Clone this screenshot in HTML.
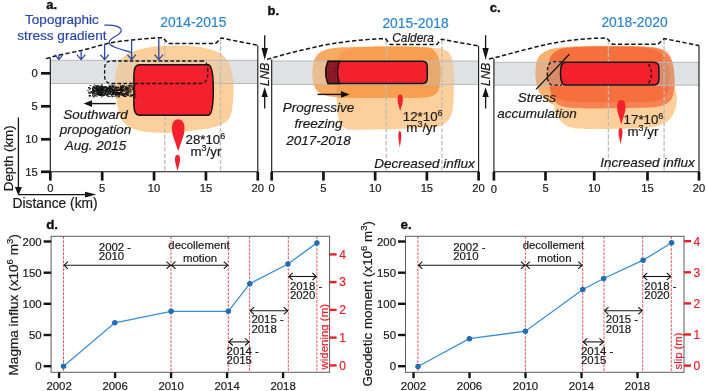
<!DOCTYPE html><html><head><meta charset="utf-8"><style>html,body{margin:0;padding:0;background:#fff;overflow:hidden;}svg{display:block;will-change:transform;}</style></head><body><svg width="706" height="391" viewBox="0 0 706 391" font-family='"Liberation Sans", sans-serif'><defs><clipPath id="band0"><rect x="50.3" y="60.3" width="207.5" height="23.200000000000003"/></clipPath><clipPath id="clipBb"><path d="M 337.00 62.00 C 338.03 57.50 338.33 53.50 343.00 51.00 C 347.67 48.50 355.50 47.75 365.00 47.00 C 374.50 46.25 389.17 46.42 400.00 46.50 C 410.83 46.58 422.67 47.00 430.00 47.50 C 437.33 48.00 440.50 48.08 444.00 49.50 C 447.50 50.92 449.40 52.58 451.00 56.00 C 452.60 59.42 453.13 64.33 453.60 70.00 C 454.07 75.67 453.90 83.67 453.80 90.00 C 453.70 96.33 453.80 103.17 453.00 108.00 C 452.20 112.83 451.17 116.00 449.00 119.00 C 446.83 122.00 444.83 124.45 440.00 126.00 C 435.17 127.55 427.50 127.80 420.00 128.30 C 412.50 128.80 403.33 128.80 395.00 129.00 C 386.67 129.20 377.50 129.40 370.00 129.50 C 362.50 129.60 354.83 130.35 350.00 129.60 C 345.17 128.85 343.12 127.77 341.00 125.00 C 338.88 122.23 338.00 118.00 337.30 113.00 C 336.60 108.00 336.88 100.83 336.80 95.00 C 336.72 89.17 336.77 83.50 336.80 78.00 C 336.83 72.50 335.97 66.50 337.00 62.00 Z"/></clipPath><clipPath id="band1"><rect x="271.7" y="61.0" width="206.90000000000003" height="23.400000000000006"/></clipPath><clipPath id="band2"><rect x="493.9" y="62.3" width="205.10000000000002" height="22.900000000000006"/></clipPath><pattern id="dots" width="2.2" height="2.2" patternUnits="userSpaceOnUse"><rect width="2.2" height="2.2" fill="#911a25"/><circle cx="1.1" cy="1.1" r="0.55" fill="#6a1019"/></pattern></defs><rect width="706" height="391" fill="#fff"/><path d="M 117.50 66.00 C 118.97 62.42 120.92 59.08 124.00 56.50 C 127.08 53.92 131.33 52.08 136.00 50.50 C 140.67 48.92 146.17 47.78 152.00 47.00 C 157.83 46.22 163.83 45.90 171.00 45.80 C 178.17 45.70 188.33 45.77 195.00 46.40 C 201.67 47.03 206.33 48.10 211.00 49.60 C 215.67 51.10 219.90 52.83 223.00 55.40 C 226.10 57.97 227.93 61.17 229.60 65.00 C 231.27 68.83 232.33 74.03 233.00 78.40 C 233.67 82.77 233.63 87.10 233.60 91.20 C 233.57 95.30 233.23 99.20 232.80 103.00 C 232.37 106.80 232.13 110.83 231.00 114.00 C 229.87 117.17 229.00 119.75 226.00 122.00 C 223.00 124.25 218.67 126.03 213.00 127.50 C 207.33 128.97 198.83 129.92 192.00 130.80 C 185.17 131.68 178.17 132.50 172.00 132.80 C 165.83 133.10 160.83 133.07 155.00 132.60 C 149.17 132.13 142.00 131.43 137.00 130.00 C 132.00 128.57 127.92 126.42 125.00 124.00 C 122.08 121.58 120.83 119.00 119.50 115.50 C 118.17 112.00 117.75 107.08 117.00 103.00 C 116.25 98.92 115.30 95.17 115.00 91.00 C 114.70 86.83 114.78 82.17 115.20 78.00 C 115.62 73.83 116.03 69.58 117.50 66.00 Z" fill="rgb(253,207,155)"/>
<rect x="50.3" y="60.3" width="207.5" height="23.200000000000003" fill="rgb(224,225,227)"/>
<g clip-path="url(#band0)">
<g><path d="M 117.50 66.00 C 118.97 62.42 120.92 59.08 124.00 56.50 C 127.08 53.92 131.33 52.08 136.00 50.50 C 140.67 48.92 146.17 47.78 152.00 47.00 C 157.83 46.22 163.83 45.90 171.00 45.80 C 178.17 45.70 188.33 45.77 195.00 46.40 C 201.67 47.03 206.33 48.10 211.00 49.60 C 215.67 51.10 219.90 52.83 223.00 55.40 C 226.10 57.97 227.93 61.17 229.60 65.00 C 231.27 68.83 232.33 74.03 233.00 78.40 C 233.67 82.77 233.63 87.10 233.60 91.20 C 233.57 95.30 233.23 99.20 232.80 103.00 C 232.37 106.80 232.13 110.83 231.00 114.00 C 229.87 117.17 229.00 119.75 226.00 122.00 C 223.00 124.25 218.67 126.03 213.00 127.50 C 207.33 128.97 198.83 129.92 192.00 130.80 C 185.17 131.68 178.17 132.50 172.00 132.80 C 165.83 133.10 160.83 133.07 155.00 132.60 C 149.17 132.13 142.00 131.43 137.00 130.00 C 132.00 128.57 127.92 126.42 125.00 124.00 C 122.08 121.58 120.83 119.00 119.50 115.50 C 118.17 112.00 117.75 107.08 117.00 103.00 C 116.25 98.92 115.30 95.17 115.00 91.00 C 114.70 86.83 114.78 82.17 115.20 78.00 C 115.62 73.83 116.03 69.58 117.50 66.00 Z" fill="rgb(236,205,168)"/></g>
</g>
<line x1="50.3" y1="60.3" x2="257.8" y2="60.3" stroke="#b8b9bc" stroke-width="1"/>
<line x1="50.3" y1="83.5" x2="257.8" y2="83.5" stroke="#b8b9bc" stroke-width="1"/>
<line x1="164.8" y1="40" x2="164.8" y2="171.8" stroke="#bcbcbc" stroke-width="1.3" stroke-dasharray="4.4 1.9"/>
<line x1="220.5" y1="40" x2="220.5" y2="171.8" stroke="#bcbcbc" stroke-width="1.3" stroke-dasharray="4.4 1.9"/>
<path d="M 139 64.8 L 208.5 64.8 C 211.8 65.5 213.3 75 213.3 90 C 213.3 105 211.8 114.5 208.5 115.2 L 139 115.2 C 135.5 115.2 134 112 133.9 105 L 133.9 75 C 134 68 135.5 64.8 139 64.8 Z" fill="#f3202e" stroke="#141414" stroke-width="1.5" stroke-linejoin="round"/>
<path d="M 203 61 L 112 61 Q 104.6 61 104.6 68.5 L 104.6 76 Q 104.6 83.5 112 83.5 L 201 83.5 Q 207.8 83.5 207.8 72.2 Q 207.8 61 203 61" fill="none" stroke="#141414" stroke-width="1.3" stroke-dasharray="3.6 2.2"/>
<g fill="#111"><rect x="97.4" y="91.9" width="1.4" height="0.8"/><rect x="111.3" y="89.4" width="1.4" height="0.8"/><rect x="110.3" y="86.5" width="1.4" height="0.8"/><rect x="94.5" y="87.0" width="1.4" height="0.8"/><rect x="121.8" y="87.3" width="1.4" height="0.8"/><rect x="114.6" y="94.5" width="1.4" height="0.8"/><rect x="106.3" y="94.8" width="1.4" height="0.8"/><rect x="122.9" y="88.7" width="1.4" height="0.8"/><rect x="96.2" y="88.9" width="1.4" height="0.8"/><rect x="100.7" y="91.3" width="1.4" height="0.8"/><rect x="105.7" y="91.0" width="1.4" height="0.8"/><rect x="94.1" y="88.0" width="1.4" height="0.8"/><rect x="107.1" y="89.0" width="1.4" height="0.8"/><rect x="108.3" y="88.8" width="1.4" height="0.8"/><rect x="114.2" y="88.3" width="1.4" height="0.8"/><rect x="110.9" y="93.9" width="1.4" height="0.8"/><rect x="103.5" y="94.8" width="1.4" height="0.8"/><rect x="107.1" y="92.9" width="1.4" height="0.8"/><rect x="109.6" y="86.5" width="1.4" height="0.8"/><rect x="115.9" y="91.2" width="1.4" height="0.8"/><rect x="104.2" y="92.3" width="1.4" height="0.8"/><rect x="112.9" y="90.2" width="1.4" height="0.8"/><rect x="120.6" y="90.4" width="1.4" height="0.8"/><rect x="97.6" y="92.4" width="1.4" height="0.8"/><rect x="121.8" y="93.4" width="1.4" height="0.8"/><rect x="105.9" y="92.1" width="1.4" height="0.8"/><rect x="108.6" y="87.7" width="1.4" height="0.8"/><rect x="94.1" y="93.0" width="1.4" height="0.8"/><rect x="100.9" y="89.6" width="1.4" height="0.8"/><rect x="98.1" y="90.2" width="1.4" height="0.8"/><rect x="123.8" y="93.4" width="1.4" height="0.8"/><rect x="103.2" y="89.9" width="1.4" height="0.8"/><rect x="123.8" y="94.6" width="1.4" height="0.8"/><rect x="98.3" y="88.2" width="1.4" height="0.8"/><rect x="109.5" y="91.4" width="1.4" height="0.8"/><rect x="92.1" y="89.9" width="1.4" height="0.8"/><rect x="112.4" y="94.6" width="1.4" height="0.8"/><rect x="109.4" y="91.6" width="1.4" height="0.8"/><rect x="97.4" y="94.1" width="1.4" height="0.8"/><rect x="118.7" y="93.2" width="1.4" height="0.8"/><rect x="106.4" y="87.1" width="1.4" height="0.8"/><rect x="97.6" y="86.8" width="1.4" height="0.8"/><rect x="97.8" y="89.2" width="1.4" height="0.8"/><rect x="92.0" y="87.5" width="1.4" height="0.8"/><rect x="105.1" y="86.4" width="1.4" height="0.8"/><rect x="112.0" y="87.5" width="1.4" height="0.8"/><rect x="104.5" y="89.4" width="1.4" height="0.8"/><rect x="122.6" y="94.9" width="1.4" height="0.8"/><rect x="109.4" y="87.0" width="1.4" height="0.8"/><rect x="104.3" y="88.5" width="1.4" height="0.8"/><rect x="100.2" y="86.4" width="1.4" height="0.8"/><rect x="109.7" y="87.5" width="1.4" height="0.8"/><rect x="93.0" y="90.8" width="1.4" height="0.8"/><rect x="118.4" y="92.3" width="1.4" height="0.8"/><rect x="105.2" y="87.7" width="1.4" height="0.8"/><rect x="109.8" y="93.1" width="1.4" height="0.8"/><rect x="100.0" y="93.3" width="1.4" height="0.8"/><rect x="118.2" y="93.3" width="1.4" height="0.8"/><rect x="115.2" y="88.2" width="1.4" height="0.8"/><rect x="104.8" y="86.5" width="1.4" height="0.8"/><rect x="102.1" y="88.5" width="1.4" height="0.8"/><rect x="120.9" y="90.1" width="1.4" height="0.8"/><rect x="121.7" y="94.6" width="1.4" height="0.8"/><rect x="99.9" y="88.2" width="1.4" height="0.8"/><rect x="99.4" y="91.7" width="1.4" height="0.8"/><rect x="117.9" y="90.4" width="1.4" height="0.8"/><rect x="116.8" y="86.9" width="1.4" height="0.8"/><rect x="119.7" y="93.1" width="1.4" height="0.8"/><rect x="108.4" y="87.8" width="1.4" height="0.8"/><rect x="104.6" y="93.2" width="1.4" height="0.8"/><rect x="106.3" y="89.7" width="1.4" height="0.8"/><rect x="114.8" y="87.7" width="1.4" height="0.8"/><rect x="97.4" y="94.2" width="1.4" height="0.8"/><rect x="99.8" y="93.5" width="1.4" height="0.8"/><rect x="113.1" y="89.3" width="1.4" height="0.8"/><rect x="96.7" y="86.3" width="1.4" height="0.8"/><rect x="112.9" y="90.8" width="1.4" height="0.8"/><rect x="107.3" y="93.9" width="1.4" height="0.8"/><rect x="101.5" y="88.4" width="1.4" height="0.8"/><rect x="100.7" y="91.4" width="1.4" height="0.8"/><rect x="107.1" y="87.4" width="1.4" height="0.8"/><rect x="105.2" y="90.2" width="1.4" height="0.8"/><rect x="124.6" y="89.9" width="1.4" height="0.8"/><rect x="109.0" y="90.9" width="1.4" height="0.8"/><rect x="92.7" y="90.1" width="1.4" height="0.8"/><rect x="92.1" y="93.2" width="1.4" height="0.8"/><rect x="109.0" y="92.6" width="1.4" height="0.8"/><rect x="103.7" y="90.8" width="1.4" height="0.8"/><rect x="120.2" y="87.1" width="1.4" height="0.8"/><rect x="100.9" y="88.6" width="1.4" height="0.8"/><rect x="109.2" y="91.1" width="1.4" height="0.8"/><rect x="119.7" y="90.1" width="1.4" height="0.8"/><rect x="109.1" y="90.7" width="1.4" height="0.8"/><rect x="107.8" y="90.9" width="1.4" height="0.8"/><rect x="125.9" y="92.4" width="1.4" height="0.8"/><rect x="120.5" y="88.5" width="1.4" height="0.8"/><rect x="126.0" y="93.6" width="1.4" height="0.8"/><rect x="96.4" y="90.1" width="1.4" height="0.8"/><rect x="100.7" y="86.8" width="1.4" height="0.8"/><rect x="116.4" y="94.1" width="1.4" height="0.8"/><rect x="117.8" y="92.0" width="1.4" height="0.8"/><rect x="123.8" y="94.7" width="1.4" height="0.8"/><rect x="126.3" y="89.7" width="1.4" height="0.8"/><rect x="127.6" y="93.5" width="1.4" height="0.8"/><rect x="107.5" y="90.7" width="1.4" height="0.8"/><rect x="99.0" y="89.0" width="1.4" height="0.8"/><rect x="96.5" y="91.1" width="1.4" height="0.8"/><rect x="92.7" y="89.1" width="1.4" height="0.8"/><rect x="109.3" y="86.8" width="1.4" height="0.8"/><rect x="116.5" y="94.8" width="1.4" height="0.8"/><rect x="101.6" y="86.5" width="1.4" height="0.8"/><rect x="103.0" y="87.3" width="1.4" height="0.8"/><rect x="124.8" y="93.4" width="1.4" height="0.8"/><rect x="97.4" y="94.3" width="1.4" height="0.8"/><rect x="117.2" y="87.0" width="1.4" height="0.8"/><rect x="116.8" y="89.9" width="1.4" height="0.8"/><rect x="125.8" y="91.8" width="1.4" height="0.8"/><rect x="98.2" y="93.7" width="1.4" height="0.8"/><rect x="123.1" y="90.2" width="1.4" height="0.8"/><rect x="111.9" y="94.4" width="1.4" height="0.8"/><rect x="96.7" y="90.8" width="1.4" height="0.8"/><rect x="95.9" y="87.6" width="1.4" height="0.8"/><rect x="99.3" y="88.9" width="1.4" height="0.8"/><rect x="119.3" y="88.8" width="1.4" height="0.8"/><rect x="98.4" y="89.3" width="1.4" height="0.8"/><rect x="101.0" y="86.3" width="1.4" height="0.8"/><rect x="110.3" y="87.9" width="1.4" height="0.8"/><rect x="125.6" y="87.1" width="1.4" height="0.8"/><rect x="107.2" y="90.6" width="1.4" height="0.8"/><rect x="106.2" y="90.7" width="1.4" height="0.8"/><rect x="121.5" y="89.2" width="1.4" height="0.8"/><rect x="114.4" y="91.8" width="1.4" height="0.8"/><rect x="104.5" y="86.7" width="1.4" height="0.8"/><rect x="94.5" y="92.7" width="1.4" height="0.8"/><rect x="97.9" y="86.9" width="1.4" height="0.8"/><rect x="118.6" y="92.1" width="1.4" height="0.8"/><rect x="100.7" y="88.8" width="1.4" height="0.8"/><rect x="97.7" y="90.1" width="1.4" height="0.8"/><rect x="126.6" y="94.8" width="1.4" height="0.8"/><rect x="100.8" y="94.7" width="1.4" height="0.8"/><rect x="104.8" y="86.2" width="1.4" height="0.8"/><rect x="109.1" y="90.6" width="1.4" height="0.8"/><rect x="110.2" y="86.2" width="1.4" height="0.8"/><rect x="95.2" y="89.7" width="1.4" height="0.8"/><rect x="92.8" y="88.9" width="1.4" height="0.8"/><rect x="113.1" y="90.9" width="1.4" height="0.8"/><rect x="113.1" y="92.5" width="1.4" height="0.8"/><rect x="106.1" y="89.1" width="1.4" height="0.8"/><rect x="99.9" y="92.6" width="1.4" height="0.8"/><rect x="97.1" y="93.6" width="1.4" height="0.8"/><rect x="112.3" y="92.7" width="1.4" height="0.8"/><rect x="99.6" y="90.8" width="1.4" height="0.8"/><rect x="122.1" y="93.3" width="1.4" height="0.8"/><rect x="111.2" y="94.1" width="1.4" height="0.8"/><rect x="114.0" y="88.2" width="1.4" height="0.8"/><rect x="96.8" y="89.4" width="1.4" height="0.8"/><rect x="122.1" y="91.1" width="1.4" height="0.8"/><rect x="112.3" y="92.2" width="1.4" height="0.8"/><rect x="92.1" y="93.2" width="1.4" height="0.8"/><rect x="109.1" y="90.9" width="1.4" height="0.8"/><rect x="97.7" y="92.7" width="1.4" height="0.8"/><rect x="94.7" y="88.5" width="1.4" height="0.8"/><rect x="101.3" y="92.7" width="1.4" height="0.8"/><rect x="108.8" y="89.6" width="1.4" height="0.8"/><rect x="116.6" y="92.9" width="1.4" height="0.8"/><rect x="112.7" y="86.9" width="1.4" height="0.8"/><rect x="101.1" y="92.7" width="1.4" height="0.8"/><rect x="112.4" y="86.3" width="1.4" height="0.8"/><rect x="101.7" y="92.1" width="1.4" height="0.8"/><rect x="113.6" y="88.8" width="1.4" height="0.8"/><rect x="108.7" y="90.3" width="1.4" height="0.8"/><rect x="124.2" y="88.0" width="1.4" height="0.8"/><rect x="120.3" y="86.4" width="1.4" height="0.8"/><rect x="121.5" y="94.7" width="1.4" height="0.8"/><rect x="101.7" y="88.0" width="1.4" height="0.8"/><rect x="101.5" y="91.3" width="1.4" height="0.8"/><rect x="110.9" y="94.6" width="1.4" height="0.8"/><rect x="121.5" y="90.7" width="1.4" height="0.8"/><rect x="114.3" y="88.2" width="1.4" height="0.8"/><rect x="108.6" y="86.4" width="1.4" height="0.8"/><rect x="109.7" y="90.2" width="1.4" height="0.8"/><rect x="97.1" y="89.2" width="1.4" height="0.8"/><rect x="122.2" y="86.2" width="1.4" height="0.8"/><rect x="117.8" y="87.3" width="1.4" height="0.8"/><rect x="114.5" y="94.1" width="1.4" height="0.8"/><rect x="105.4" y="89.7" width="1.4" height="0.8"/><rect x="111.3" y="89.4" width="1.4" height="0.8"/><rect x="101.9" y="86.6" width="1.4" height="0.8"/><rect x="122.0" y="88.7" width="1.4" height="0.8"/><rect x="102.5" y="88.5" width="1.4" height="0.8"/><rect x="98.8" y="89.5" width="1.4" height="0.8"/><rect x="119.0" y="93.3" width="1.4" height="0.8"/><rect x="119.7" y="94.5" width="1.4" height="0.8"/><rect x="117.9" y="86.6" width="1.4" height="0.8"/><rect x="107.7" y="92.8" width="1.4" height="0.8"/><rect x="103.4" y="86.6" width="1.4" height="0.8"/><rect x="99.3" y="90.4" width="1.4" height="0.8"/><rect x="102.7" y="92.7" width="1.4" height="0.8"/><rect x="102.8" y="92.0" width="1.4" height="0.8"/><rect x="112.1" y="89.7" width="1.4" height="0.8"/><rect x="97.8" y="88.0" width="1.4" height="0.8"/><rect x="108.9" y="88.1" width="1.4" height="0.8"/><rect x="121.9" y="90.2" width="1.4" height="0.8"/><rect x="98.9" y="87.0" width="1.4" height="0.8"/><rect x="95.3" y="88.3" width="1.4" height="0.8"/><rect x="112.5" y="94.0" width="1.4" height="0.8"/><rect x="106.7" y="89.8" width="1.4" height="0.8"/><rect x="105.6" y="89.2" width="1.4" height="0.8"/><rect x="102.0" y="94.7" width="1.4" height="0.8"/><rect x="110.1" y="91.7" width="1.4" height="0.8"/><rect x="101.6" y="88.6" width="1.4" height="0.8"/><rect x="106.4" y="90.1" width="1.4" height="0.8"/><rect x="118.1" y="93.9" width="1.4" height="0.8"/><rect x="93.2" y="92.4" width="1.4" height="0.8"/><rect x="108.3" y="91.4" width="1.4" height="0.8"/><rect x="106.1" y="94.4" width="1.4" height="0.8"/><rect x="118.2" y="94.8" width="1.4" height="0.8"/><rect x="95.9" y="87.6" width="1.4" height="0.8"/><rect x="116.6" y="94.5" width="1.4" height="0.8"/><rect x="112.8" y="92.9" width="1.4" height="0.8"/><rect x="111.9" y="86.5" width="1.4" height="0.8"/><rect x="102.0" y="94.3" width="1.4" height="0.8"/><rect x="103.9" y="87.3" width="1.4" height="0.8"/><rect x="114.9" y="92.3" width="1.4" height="0.8"/><rect x="94.5" y="90.8" width="1.4" height="0.8"/><rect x="106.0" y="88.2" width="1.4" height="0.8"/><rect x="96.3" y="88.9" width="1.4" height="0.8"/><rect x="126.5" y="91.9" width="1.4" height="0.8"/><rect x="108.4" y="88.3" width="1.4" height="0.8"/><rect x="126.6" y="92.4" width="1.4" height="0.8"/><rect x="92.8" y="90.6" width="1.4" height="0.8"/><rect x="106.9" y="88.5" width="1.4" height="0.8"/><rect x="120.1" y="88.2" width="1.4" height="0.8"/><rect x="104.2" y="89.9" width="1.4" height="0.8"/><rect x="101.2" y="93.2" width="1.4" height="0.8"/><rect x="109.1" y="88.0" width="1.4" height="0.8"/><rect x="104.1" y="93.4" width="1.4" height="0.8"/><rect x="100.0" y="92.9" width="1.4" height="0.8"/><rect x="126.3" y="90.6" width="1.4" height="0.8"/><rect x="100.0" y="89.9" width="1.4" height="0.8"/><rect x="120.7" y="87.5" width="1.4" height="0.8"/><rect x="99.7" y="94.8" width="1.4" height="0.8"/><rect x="93.9" y="86.7" width="1.4" height="0.8"/><rect x="124.3" y="94.0" width="1.4" height="0.8"/><rect x="121.9" y="94.4" width="1.4" height="0.8"/><rect x="98.7" y="94.4" width="1.4" height="0.8"/><rect x="96.8" y="92.0" width="1.4" height="0.8"/><rect x="105.5" y="89.1" width="1.4" height="0.8"/><rect x="92.1" y="88.7" width="1.4" height="0.8"/><rect x="126.4" y="87.3" width="1.4" height="0.8"/><rect x="101.4" y="89.3" width="1.4" height="0.8"/><rect x="117.4" y="90.0" width="1.4" height="0.8"/><rect x="109.0" y="89.5" width="1.4" height="0.8"/><rect x="101.0" y="89.4" width="1.4" height="0.8"/><rect x="96.8" y="89.8" width="1.4" height="0.8"/><rect x="115.9" y="86.6" width="1.4" height="0.8"/><rect x="94.3" y="94.3" width="1.4" height="0.8"/><rect x="118.9" y="94.1" width="1.4" height="0.8"/><rect x="101.8" y="94.6" width="1.4" height="0.8"/><rect x="102.8" y="92.5" width="1.4" height="0.8"/><rect x="101.9" y="86.2" width="1.4" height="0.8"/><rect x="119.8" y="91.8" width="1.4" height="0.8"/><rect x="96.6" y="88.3" width="1.4" height="0.8"/><rect x="126.4" y="94.6" width="1.4" height="0.8"/><rect x="101.0" y="90.0" width="1.4" height="0.8"/><rect x="125.4" y="87.8" width="1.4" height="0.8"/><rect x="115.2" y="93.4" width="1.4" height="0.8"/><rect x="111.8" y="89.1" width="1.4" height="0.8"/><rect x="105.0" y="93.1" width="1.4" height="0.8"/><rect x="99.1" y="92.8" width="1.4" height="0.8"/><rect x="94.3" y="86.5" width="1.4" height="0.8"/><rect x="103.7" y="94.8" width="1.4" height="0.8"/><rect x="121.7" y="88.5" width="1.4" height="0.8"/><rect x="95.5" y="90.6" width="1.4" height="0.8"/><rect x="107.6" y="88.3" width="1.4" height="0.8"/><rect x="114.3" y="92.1" width="1.4" height="0.8"/><rect x="118.0" y="92.0" width="1.4" height="0.8"/><rect x="122.3" y="88.8" width="1.4" height="0.8"/><rect x="105.4" y="92.7" width="1.4" height="0.8"/><rect x="100.9" y="88.4" width="1.4" height="0.8"/><rect x="123.8" y="91.3" width="1.4" height="0.8"/><rect x="106.3" y="94.9" width="1.4" height="0.8"/><rect x="100.3" y="93.3" width="1.4" height="0.8"/><rect x="121.8" y="87.1" width="1.4" height="0.8"/><rect x="121.5" y="93.6" width="1.4" height="0.8"/><rect x="97.0" y="88.8" width="1.4" height="0.8"/><rect x="98.8" y="94.8" width="1.4" height="0.8"/><rect x="125.5" y="89.5" width="1.4" height="0.8"/><rect x="107.7" y="88.5" width="1.4" height="0.8"/><rect x="120.6" y="87.1" width="1.4" height="0.8"/><rect x="114.3" y="88.1" width="1.4" height="0.8"/><rect x="97.1" y="88.0" width="1.4" height="0.8"/><rect x="113.6" y="91.9" width="1.4" height="0.8"/><rect x="92.4" y="89.1" width="1.4" height="0.8"/><rect x="100.8" y="88.9" width="1.4" height="0.8"/><rect x="120.6" y="91.0" width="1.4" height="0.8"/><rect x="95.6" y="89.7" width="1.4" height="0.8"/><rect x="115.0" y="87.0" width="1.4" height="0.8"/><rect x="117.0" y="89.8" width="1.4" height="0.8"/><rect x="103.1" y="94.6" width="1.4" height="0.8"/><rect x="112.4" y="89.3" width="1.4" height="0.8"/><rect x="123.1" y="95.0" width="1.4" height="0.8"/><rect x="99.1" y="92.6" width="1.4" height="0.8"/><rect x="92.2" y="94.1" width="1.4" height="0.8"/><rect x="121.5" y="89.8" width="1.4" height="0.8"/><rect x="108.0" y="87.6" width="1.4" height="0.8"/><rect x="111.9" y="91.8" width="1.4" height="0.8"/><rect x="98.3" y="91.7" width="1.4" height="0.8"/><rect x="110.2" y="87.5" width="1.4" height="0.8"/><rect x="110.8" y="94.3" width="1.4" height="0.8"/><rect x="109.7" y="93.3" width="1.4" height="0.8"/><rect x="101.1" y="87.3" width="1.4" height="0.8"/><rect x="121.4" y="90.4" width="1.4" height="0.8"/><rect x="125.3" y="89.6" width="1.4" height="0.8"/><rect x="112.1" y="93.5" width="1.4" height="0.8"/><rect x="120.3" y="88.2" width="1.4" height="0.8"/><rect x="122.5" y="93.5" width="1.4" height="0.8"/><rect x="99.9" y="89.7" width="1.4" height="0.8"/><rect x="105.8" y="87.3" width="1.4" height="0.8"/><rect x="118.1" y="94.1" width="1.4" height="0.8"/><rect x="112.2" y="92.9" width="1.4" height="0.8"/><rect x="122.2" y="87.2" width="1.4" height="0.8"/><rect x="111.8" y="91.7" width="1.4" height="0.8"/><rect x="107.1" y="91.3" width="1.4" height="0.8"/><rect x="115.7" y="90.1" width="1.4" height="0.8"/><rect x="92.8" y="91.6" width="1.4" height="0.8"/><rect x="100.5" y="92.9" width="1.4" height="0.8"/><rect x="107.9" y="87.8" width="1.4" height="0.8"/><rect x="95.9" y="87.3" width="1.4" height="0.8"/><rect x="95.3" y="90.1" width="1.4" height="0.8"/><rect x="93.5" y="91.8" width="1.4" height="0.8"/><rect x="118.4" y="93.0" width="1.4" height="0.8"/><rect x="94.0" y="90.6" width="1.4" height="0.8"/><rect x="126.2" y="87.4" width="1.4" height="0.8"/><rect x="121.9" y="92.6" width="1.4" height="0.8"/><rect x="101.0" y="94.8" width="1.4" height="0.8"/><rect x="126.4" y="94.3" width="1.4" height="0.8"/><rect x="120.4" y="94.4" width="1.4" height="0.8"/><rect x="104.6" y="92.9" width="1.4" height="0.8"/><rect x="124.3" y="88.6" width="1.4" height="0.8"/><rect x="99.7" y="90.6" width="1.4" height="0.8"/><rect x="101.4" y="88.5" width="1.4" height="0.8"/><rect x="103.5" y="86.5" width="1.4" height="0.8"/><rect x="97.8" y="94.4" width="1.4" height="0.8"/><rect x="119.3" y="87.7" width="1.4" height="0.8"/><rect x="99.0" y="90.9" width="1.4" height="0.8"/><rect x="105.4" y="93.9" width="1.4" height="0.8"/><rect x="112.9" y="94.0" width="1.4" height="0.8"/><rect x="127.7" y="91.7" width="1.4" height="0.8"/><rect x="120.7" y="88.5" width="1.4" height="0.8"/><rect x="111.0" y="89.4" width="1.4" height="0.8"/><rect x="107.5" y="87.8" width="1.4" height="0.8"/><rect x="97.3" y="93.4" width="1.4" height="0.8"/><rect x="115.0" y="94.9" width="1.4" height="0.8"/><rect x="115.9" y="89.0" width="1.4" height="0.8"/><rect x="93.2" y="87.5" width="1.4" height="0.8"/><rect x="107.2" y="90.7" width="1.4" height="0.8"/><rect x="99.4" y="88.2" width="1.4" height="0.8"/><rect x="96.6" y="86.2" width="1.4" height="0.8"/><rect x="95.8" y="89.3" width="1.4" height="0.8"/><rect x="113.0" y="91.4" width="1.4" height="0.8"/><rect x="114.5" y="90.4" width="1.4" height="0.8"/><rect x="125.7" y="88.3" width="1.4" height="0.8"/><rect x="95.4" y="91.8" width="1.4" height="0.8"/><rect x="116.3" y="89.7" width="1.4" height="0.8"/><rect x="92.4" y="91.9" width="1.4" height="0.8"/><rect x="104.6" y="91.9" width="1.4" height="0.8"/><rect x="125.7" y="92.7" width="1.4" height="0.8"/><rect x="124.5" y="86.6" width="1.4" height="0.8"/><rect x="106.6" y="88.3" width="1.4" height="0.8"/><rect x="120.0" y="86.3" width="1.4" height="0.8"/><rect x="125.9" y="87.5" width="1.4" height="0.8"/><rect x="113.9" y="90.7" width="1.4" height="0.8"/><rect x="117.1" y="87.7" width="1.4" height="0.8"/><rect x="102.8" y="86.6" width="1.4" height="0.8"/><rect x="116.4" y="92.5" width="1.4" height="0.8"/><rect x="122.4" y="92.8" width="1.4" height="0.8"/><rect x="118.7" y="90.2" width="1.4" height="0.8"/><rect x="95.8" y="88.2" width="1.4" height="0.8"/><rect x="104.1" y="92.8" width="1.4" height="0.8"/><rect x="118.0" y="92.5" width="1.4" height="0.8"/><rect x="111.9" y="90.0" width="1.4" height="0.8"/><rect x="109.6" y="88.5" width="1.4" height="0.8"/><rect x="121.1" y="88.1" width="1.4" height="0.8"/><rect x="96.4" y="88.5" width="1.4" height="0.8"/><rect x="118.8" y="94.5" width="1.4" height="0.8"/><rect x="104.5" y="93.9" width="1.4" height="0.8"/><rect x="100.6" y="94.2" width="1.4" height="0.8"/><rect x="114.0" y="92.1" width="1.4" height="0.8"/><rect x="108.2" y="93.6" width="1.4" height="0.8"/><rect x="118.3" y="90.0" width="1.4" height="0.8"/><rect x="110.8" y="88.9" width="1.4" height="0.8"/><rect x="114.4" y="86.9" width="1.4" height="0.8"/><rect x="99.8" y="86.4" width="1.4" height="0.8"/><rect x="125.4" y="89.2" width="1.4" height="0.8"/><rect x="93.0" y="86.6" width="1.4" height="0.8"/><rect x="112.5" y="92.3" width="1.4" height="0.8"/><rect x="97.7" y="91.4" width="1.4" height="0.8"/><rect x="121.4" y="93.4" width="1.4" height="0.8"/><rect x="97.7" y="93.8" width="1.4" height="0.8"/><rect x="120.6" y="87.1" width="1.4" height="0.8"/><rect x="96.0" y="86.5" width="1.4" height="0.8"/><rect x="117.1" y="91.8" width="1.4" height="0.8"/><rect x="112.4" y="88.7" width="1.4" height="0.8"/><rect x="95.5" y="92.9" width="1.4" height="0.8"/><rect x="103.5" y="89.9" width="1.4" height="0.8"/><rect x="101.2" y="88.7" width="1.4" height="0.8"/><rect x="105.6" y="89.0" width="1.4" height="0.8"/><rect x="109.1" y="93.7" width="1.4" height="0.8"/><rect x="96.8" y="89.8" width="1.4" height="0.8"/><rect x="119.8" y="89.3" width="1.4" height="0.8"/><rect x="110.0" y="88.1" width="1.4" height="0.8"/><rect x="98.4" y="93.4" width="1.4" height="0.8"/><rect x="92.0" y="88.0" width="1.4" height="0.8"/><rect x="121.4" y="86.2" width="1.4" height="0.8"/><rect x="109.7" y="93.2" width="1.4" height="0.8"/><rect x="109.8" y="89.3" width="1.4" height="0.8"/><rect x="102.8" y="94.5" width="1.4" height="0.8"/><rect x="99.7" y="92.4" width="1.4" height="0.8"/><rect x="96.0" y="91.8" width="1.4" height="0.8"/><rect x="120.4" y="92.3" width="1.4" height="0.8"/><rect x="112.3" y="89.3" width="1.4" height="0.8"/><rect x="106.2" y="94.0" width="1.4" height="0.8"/><rect x="124.0" y="86.4" width="1.4" height="0.8"/><rect x="101.5" y="94.1" width="1.4" height="0.8"/><rect x="105.7" y="94.0" width="1.4" height="0.8"/><rect x="108.6" y="90.9" width="1.4" height="0.8"/><rect x="115.6" y="91.9" width="1.4" height="0.8"/><rect x="103.8" y="87.6" width="1.4" height="0.8"/><rect x="113.2" y="92.7" width="1.4" height="0.8"/><rect x="107.8" y="93.0" width="1.4" height="0.8"/><rect x="96.5" y="90.3" width="1.4" height="0.8"/><rect x="102.2" y="87.9" width="1.4" height="0.8"/><rect x="117.3" y="93.6" width="1.4" height="0.8"/><rect x="97.6" y="88.4" width="1.4" height="0.8"/><rect x="110.8" y="87.6" width="1.4" height="0.8"/><rect x="98.8" y="94.8" width="1.4" height="0.8"/><rect x="98.6" y="94.7" width="1.4" height="0.8"/><rect x="105.8" y="94.9" width="1.4" height="0.8"/><rect x="115.1" y="90.0" width="1.4" height="0.8"/><rect x="115.0" y="87.1" width="1.4" height="0.8"/><rect x="106.0" y="86.5" width="1.4" height="0.8"/><rect x="120.5" y="92.3" width="1.4" height="0.8"/><rect x="114.8" y="90.3" width="1.4" height="0.8"/><rect x="113.7" y="89.8" width="1.4" height="0.8"/><rect x="119.6" y="90.0" width="1.4" height="0.8"/><rect x="119.0" y="89.9" width="1.4" height="0.8"/><rect x="118.0" y="93.9" width="1.4" height="0.8"/><rect x="114.2" y="93.7" width="1.4" height="0.8"/><rect x="112.7" y="90.2" width="1.4" height="0.8"/><rect x="114.6" y="87.1" width="1.4" height="0.8"/><rect x="120.2" y="92.5" width="1.4" height="0.8"/><rect x="102.5" y="89.9" width="1.4" height="0.8"/><rect x="114.4" y="89.8" width="1.4" height="0.8"/><rect x="120.2" y="87.8" width="1.4" height="0.8"/><rect x="116.2" y="89.6" width="1.4" height="0.8"/><rect x="127.1" y="86.5" width="1.4" height="0.8"/><rect x="97.8" y="93.1" width="1.4" height="0.8"/><rect x="109.5" y="87.1" width="1.4" height="0.8"/><rect x="111.5" y="92.5" width="1.4" height="0.8"/><rect x="115.0" y="93.5" width="1.4" height="0.8"/><rect x="106.8" y="94.5" width="1.4" height="0.8"/><rect x="116.6" y="89.7" width="1.4" height="0.8"/><rect x="99.2" y="94.9" width="1.4" height="0.8"/><rect x="94.0" y="88.6" width="1.4" height="0.8"/><rect x="92.5" y="89.9" width="1.4" height="0.8"/><rect x="117.1" y="89.3" width="1.4" height="0.8"/><rect x="100.1" y="92.7" width="1.4" height="0.8"/><rect x="109.7" y="88.1" width="1.4" height="0.8"/><rect x="106.2" y="88.1" width="1.4" height="0.8"/><rect x="120.0" y="93.3" width="1.4" height="0.8"/><rect x="108.2" y="91.1" width="1.4" height="0.8"/><rect x="126.7" y="89.3" width="1.4" height="0.8"/><rect x="117.3" y="93.4" width="1.4" height="0.8"/><rect x="102.6" y="91.0" width="1.4" height="0.8"/><rect x="122.0" y="89.3" width="1.4" height="0.8"/><rect x="103.0" y="89.5" width="1.4" height="0.8"/><rect x="107.3" y="87.8" width="1.4" height="0.8"/><rect x="118.0" y="88.7" width="1.4" height="0.8"/><rect x="102.9" y="90.4" width="1.4" height="0.8"/><rect x="107.8" y="92.3" width="1.4" height="0.8"/><rect x="119.0" y="89.0" width="1.4" height="0.8"/><rect x="132.0" y="95.0" width="1.4" height="0.8"/><rect x="89.8" y="95.6" width="1.4" height="0.8"/><rect x="125.0" y="86.2" width="1.4" height="0.8"/><rect x="127.3" y="92.3" width="1.4" height="0.8"/><rect x="133.2" y="92.6" width="1.4" height="0.8"/><rect x="99.1" y="85.7" width="1.4" height="0.8"/><rect x="93.9" y="87.4" width="1.4" height="0.8"/><rect x="124.7" y="88.8" width="1.4" height="0.8"/><rect x="94.4" y="95.6" width="1.4" height="0.8"/><rect x="125.4" y="86.6" width="1.4" height="0.8"/><rect x="130.2" y="92.0" width="1.4" height="0.8"/><rect x="124.9" y="92.7" width="1.4" height="0.8"/><rect x="130.4" y="94.2" width="1.4" height="0.8"/><rect x="127.7" y="86.9" width="1.4" height="0.8"/><rect x="120.6" y="91.0" width="1.4" height="0.8"/><rect x="123.0" y="89.9" width="1.4" height="0.8"/><rect x="129.8" y="91.3" width="1.4" height="0.8"/><rect x="99.8" y="87.4" width="1.4" height="0.8"/><rect x="93.8" y="90.6" width="1.4" height="0.8"/><rect x="94.0" y="90.5" width="1.4" height="0.8"/><rect x="111.2" y="91.1" width="1.4" height="0.8"/><rect x="128.8" y="84.6" width="1.4" height="0.8"/><rect x="127.8" y="90.3" width="1.4" height="0.8"/><rect x="114.3" y="92.7" width="1.4" height="0.8"/><rect x="127.8" y="89.1" width="1.4" height="0.8"/><rect x="107.3" y="96.3" width="1.4" height="0.8"/><rect x="90.7" y="92.3" width="1.4" height="0.8"/><rect x="88.4" y="92.9" width="1.4" height="0.8"/><rect x="132.2" y="88.6" width="1.4" height="0.8"/><rect x="134.6" y="90.8" width="1.4" height="0.8"/><rect x="110.5" y="95.5" width="1.4" height="0.8"/><rect x="88.6" y="92.2" width="1.4" height="0.8"/><rect x="103.4" y="95.1" width="1.4" height="0.8"/><rect x="104.8" y="90.3" width="1.4" height="0.8"/><rect x="112.5" y="94.0" width="1.4" height="0.8"/><rect x="97.2" y="89.9" width="1.4" height="0.8"/><rect x="107.5" y="91.3" width="1.4" height="0.8"/><rect x="127.1" y="88.1" width="1.4" height="0.8"/><rect x="127.1" y="89.5" width="1.4" height="0.8"/><rect x="111.4" y="87.8" width="1.4" height="0.8"/><rect x="111.6" y="96.5" width="1.4" height="0.8"/><rect x="118.7" y="94.2" width="1.4" height="0.8"/><rect x="103.0" y="88.4" width="1.4" height="0.8"/><rect x="101.5" y="91.7" width="1.4" height="0.8"/><rect x="117.8" y="94.1" width="1.4" height="0.8"/><rect x="88.9" y="95.4" width="1.4" height="0.8"/><rect x="113.5" y="85.1" width="1.4" height="0.8"/><rect x="101.6" y="84.6" width="1.4" height="0.8"/><rect x="96.2" y="95.8" width="1.4" height="0.8"/><rect x="116.5" y="92.6" width="1.4" height="0.8"/><rect x="125.3" y="95.7" width="1.4" height="0.8"/><rect x="116.7" y="92.1" width="1.4" height="0.8"/><rect x="117.4" y="93.1" width="1.4" height="0.8"/><rect x="115.9" y="92.9" width="1.4" height="0.8"/><rect x="97.3" y="92.7" width="1.4" height="0.8"/><rect x="109.2" y="93.9" width="1.4" height="0.8"/><rect x="91.9" y="86.7" width="1.4" height="0.8"/><rect x="88.8" y="95.7" width="1.4" height="0.8"/><rect x="118.8" y="89.0" width="1.4" height="0.8"/><rect x="126.9" y="94.2" width="1.4" height="0.8"/><rect x="114.3" y="87.7" width="1.4" height="0.8"/><rect x="101.6" y="89.7" width="1.4" height="0.8"/><rect x="102.4" y="89.8" width="1.4" height="0.8"/><rect x="118.1" y="96.0" width="1.4" height="0.8"/><rect x="89.6" y="85.0" width="1.4" height="0.8"/><rect x="92.8" y="94.5" width="1.4" height="0.8"/><rect x="114.9" y="95.8" width="1.4" height="0.8"/><rect x="108.7" y="84.7" width="1.4" height="0.8"/><rect x="105.8" y="91.8" width="1.4" height="0.8"/><rect x="132.5" y="96.6" width="1.4" height="0.8"/><rect x="110.1" y="89.6" width="1.4" height="0.8"/><rect x="91.9" y="92.4" width="1.4" height="0.8"/><rect x="97.3" y="86.4" width="1.4" height="0.8"/><rect x="120.2" y="86.0" width="1.4" height="0.8"/><rect x="133.9" y="85.6" width="1.4" height="0.8"/><rect x="129.2" y="86.1" width="1.4" height="0.8"/><rect x="87.9" y="87.5" width="1.4" height="0.8"/><rect x="122.6" y="86.8" width="1.4" height="0.8"/><rect x="89.4" y="93.3" width="1.4" height="0.8"/><rect x="128.5" y="93.5" width="1.4" height="0.8"/><rect x="91.1" y="92.2" width="1.4" height="0.8"/><rect x="121.4" y="90.2" width="1.4" height="0.8"/><rect x="132.2" y="87.6" width="1.4" height="0.8"/><rect x="133.8" y="93.3" width="1.4" height="0.8"/><rect x="118.6" y="94.6" width="1.4" height="0.8"/><rect x="122.4" y="86.5" width="1.4" height="0.8"/><rect x="128.8" y="90.5" width="1.4" height="0.8"/><rect x="114.9" y="89.9" width="1.4" height="0.8"/><rect x="119.8" y="86.3" width="1.4" height="0.8"/><rect x="125.7" y="89.0" width="1.4" height="0.8"/><rect x="118.3" y="92.2" width="1.4" height="0.8"/><rect x="107.3" y="89.2" width="1.4" height="0.8"/><rect x="125.1" y="96.1" width="1.4" height="0.8"/><rect x="125.1" y="91.5" width="1.4" height="0.8"/><rect x="101.2" y="85.2" width="1.4" height="0.8"/><rect x="134.2" y="93.2" width="1.4" height="0.8"/><rect x="127.1" y="88.6" width="1.4" height="0.8"/><rect x="116.4" y="96.5" width="1.4" height="0.8"/><rect x="127.3" y="91.9" width="1.4" height="0.8"/><rect x="102.0" y="89.8" width="1.4" height="0.8"/><rect x="130.1" y="89.1" width="1.4" height="0.8"/><rect x="120.2" y="91.9" width="1.4" height="0.8"/><rect x="130.5" y="94.4" width="1.4" height="0.8"/><rect x="100.7" y="84.5" width="1.4" height="0.8"/><rect x="99.8" y="89.7" width="1.4" height="0.8"/><rect x="115.5" y="94.5" width="1.4" height="0.8"/><rect x="130.0" y="85.0" width="1.4" height="0.8"/><rect x="127.4" y="94.5" width="1.4" height="0.8"/><rect x="129.1" y="91.5" width="1.4" height="0.8"/><rect x="100.3" y="95.0" width="1.4" height="0.8"/><rect x="126.1" y="92.9" width="1.4" height="0.8"/><rect x="131.3" y="88.8" width="1.4" height="0.8"/><rect x="91.1" y="91.3" width="1.4" height="0.8"/><rect x="125.7" y="87.0" width="1.4" height="0.8"/><rect x="123.4" y="96.0" width="1.4" height="0.8"/><rect x="98.4" y="92.0" width="1.4" height="0.8"/><rect x="119.9" y="90.2" width="1.4" height="0.8"/><rect x="97.0" y="87.6" width="1.4" height="0.8"/><rect x="123.4" y="94.2" width="1.4" height="0.8"/><rect x="109.3" y="85.6" width="1.4" height="0.8"/><rect x="126.1" y="94.0" width="1.4" height="0.8"/><rect x="98.3" y="91.6" width="1.4" height="0.8"/><rect x="130.5" y="95.4" width="1.4" height="0.8"/><rect x="112.3" y="90.4" width="1.4" height="0.8"/><rect x="115.6" y="86.8" width="1.4" height="0.8"/><rect x="96.3" y="86.7" width="1.4" height="0.8"/><rect x="121.0" y="89.0" width="1.4" height="0.8"/><rect x="114.4" y="89.5" width="1.4" height="0.8"/><rect x="112.1" y="86.3" width="1.4" height="0.8"/><rect x="89.2" y="89.1" width="1.4" height="0.8"/><rect x="92.1" y="92.3" width="1.4" height="0.8"/><rect x="125.2" y="86.4" width="1.4" height="0.8"/><rect x="116.0" y="88.7" width="1.4" height="0.8"/><rect x="112.2" y="84.8" width="1.4" height="0.8"/><rect x="88.6" y="95.2" width="1.4" height="0.8"/><rect x="110.6" y="91.5" width="1.4" height="0.8"/><rect x="99.7" y="94.1" width="1.4" height="0.8"/><rect x="107.7" y="96.1" width="1.4" height="0.8"/><rect x="124.2" y="94.6" width="1.4" height="0.8"/><rect x="133.7" y="87.6" width="1.4" height="0.8"/><rect x="95.8" y="85.5" width="1.4" height="0.8"/><rect x="89.5" y="95.2" width="1.4" height="0.8"/><rect x="109.2" y="96.2" width="1.4" height="0.8"/><rect x="131.1" y="85.3" width="1.4" height="0.8"/><rect x="116.0" y="89.4" width="1.4" height="0.8"/><rect x="92.8" y="96.3" width="1.4" height="0.8"/><rect x="99.5" y="91.4" width="1.4" height="0.8"/><rect x="118.1" y="96.3" width="1.4" height="0.8"/><rect x="119.5" y="89.3" width="1.4" height="0.8"/><rect x="108.7" y="86.5" width="1.4" height="0.8"/><rect x="133.8" y="96.7" width="1.4" height="0.8"/><rect x="97.8" y="85.0" width="1.4" height="0.8"/><rect x="99.4" y="88.8" width="1.4" height="0.8"/><rect x="130.8" y="95.6" width="1.4" height="0.8"/><rect x="127.6" y="85.1" width="1.4" height="0.8"/><rect x="125.1" y="93.2" width="1.4" height="0.8"/><rect x="118.4" y="96.6" width="1.4" height="0.8"/><rect x="123.6" y="96.1" width="1.4" height="0.8"/><rect x="119.8" y="88.2" width="1.4" height="0.8"/><rect x="115.7" y="93.8" width="1.4" height="0.8"/><rect x="92.1" y="88.5" width="1.4" height="0.8"/><rect x="99.5" y="86.0" width="1.4" height="0.8"/><rect x="110.3" y="86.6" width="1.4" height="0.8"/><rect x="98.6" y="86.3" width="1.4" height="0.8"/><rect x="119.9" y="84.7" width="1.4" height="0.8"/><rect x="121.8" y="86.9" width="1.4" height="0.8"/><rect x="88.7" y="87.2" width="1.4" height="0.8"/><rect x="132.3" y="95.2" width="1.4" height="0.8"/><rect x="130.1" y="86.2" width="1.4" height="0.8"/><rect x="108.7" y="85.7" width="1.4" height="0.8"/><rect x="132.0" y="94.9" width="1.4" height="0.8"/><rect x="117.5" y="90.1" width="1.4" height="0.8"/><rect x="103.5" y="94.6" width="1.4" height="0.8"/><rect x="110.2" y="92.2" width="1.4" height="0.8"/><rect x="93.9" y="87.2" width="1.4" height="0.8"/><rect x="89.8" y="91.3" width="1.4" height="0.8"/><rect x="94.0" y="95.2" width="1.4" height="0.8"/><rect x="99.9" y="89.6" width="1.4" height="0.8"/><rect x="94.6" y="87.8" width="1.4" height="0.8"/><rect x="127.7" y="88.6" width="1.4" height="0.8"/><rect x="95.1" y="90.5" width="1.4" height="0.8"/><rect x="102.4" y="95.6" width="1.4" height="0.8"/><rect x="92.5" y="96.5" width="1.4" height="0.8"/><rect x="89.8" y="92.7" width="1.4" height="0.8"/><rect x="97.2" y="90.4" width="1.4" height="0.8"/><rect x="100.9" y="87.7" width="1.4" height="0.8"/><rect x="96.8" y="89.0" width="1.4" height="0.8"/><rect x="135.1" y="96.8" width="1.4" height="0.8"/><rect x="131.9" y="85.7" width="1.4" height="0.8"/><rect x="101.0" y="95.5" width="1.4" height="0.8"/><rect x="89.8" y="88.1" width="1.4" height="0.8"/><rect x="134.5" y="84.7" width="1.4" height="0.8"/><rect x="126.1" y="88.7" width="1.4" height="0.8"/><rect x="93.8" y="84.5" width="1.4" height="0.8"/><rect x="127.4" y="91.0" width="1.4" height="0.8"/><rect x="96.0" y="89.9" width="1.4" height="0.8"/><rect x="131.2" y="87.2" width="1.4" height="0.8"/><rect x="114.7" y="86.2" width="1.4" height="0.8"/><rect x="95.7" y="94.0" width="1.4" height="0.8"/><rect x="121.5" y="86.9" width="1.4" height="0.8"/><rect x="116.5" y="90.6" width="1.4" height="0.8"/><rect x="100.3" y="87.0" width="1.4" height="0.8"/><rect x="116.7" y="93.2" width="1.4" height="0.8"/><rect x="126.4" y="91.7" width="1.4" height="0.8"/><rect x="96.8" y="85.3" width="1.4" height="0.8"/><rect x="122.5" y="89.5" width="1.4" height="0.8"/><rect x="122.0" y="85.2" width="1.4" height="0.8"/><rect x="126.3" y="88.6" width="1.4" height="0.8"/><rect x="127.8" y="95.1" width="1.4" height="0.8"/><rect x="110.9" y="84.7" width="1.4" height="0.8"/><rect x="131.1" y="90.4" width="1.4" height="0.8"/><rect x="129.3" y="87.8" width="1.4" height="0.8"/><rect x="96.0" y="94.7" width="1.4" height="0.8"/><rect x="104.8" y="86.5" width="1.4" height="0.8"/><rect x="105.0" y="91.8" width="1.4" height="0.8"/><rect x="87.2" y="90.0" width="1.4" height="0.8"/><rect x="112.0" y="86.0" width="1.4" height="0.8"/><rect x="121.7" y="94.5" width="1.4" height="0.8"/><rect x="129.0" y="88.4" width="1.4" height="0.8"/><rect x="121.5" y="89.2" width="1.4" height="0.8"/><rect x="123.4" y="85.3" width="1.4" height="0.8"/><rect x="129.3" y="96.2" width="1.4" height="0.8"/><rect x="111.0" y="90.8" width="1.4" height="0.8"/><rect x="112.7" y="91.1" width="1.4" height="0.8"/><rect x="88.0" y="87.3" width="1.4" height="0.8"/><rect x="95.8" y="85.8" width="1.4" height="0.8"/><rect x="99.1" y="94.6" width="1.4" height="0.8"/><rect x="120.9" y="86.9" width="1.4" height="0.8"/><rect x="87.9" y="91.6" width="1.4" height="0.8"/><rect x="112.4" y="93.1" width="1.4" height="0.8"/><rect x="92.0" y="95.2" width="1.4" height="0.8"/><rect x="121.8" y="85.1" width="1.4" height="0.8"/><rect x="93.0" y="90.6" width="1.4" height="0.8"/><rect x="111.3" y="87.9" width="1.4" height="0.8"/><rect x="92.9" y="89.5" width="1.4" height="0.8"/><rect x="93.6" y="91.8" width="1.4" height="0.8"/><rect x="128.8" y="86.3" width="1.4" height="0.8"/><rect x="114.8" y="93.7" width="1.4" height="0.8"/><rect x="95.0" y="94.7" width="1.4" height="0.8"/><rect x="132.5" y="89.3" width="1.4" height="0.8"/><rect x="107.4" y="94.8" width="1.4" height="0.8"/><rect x="112.5" y="89.4" width="1.4" height="0.8"/><rect x="132.7" y="94.1" width="1.4" height="0.8"/><rect x="103.4" y="87.5" width="1.4" height="0.8"/><rect x="103.3" y="89.9" width="1.4" height="0.8"/><rect x="134.6" y="94.4" width="1.4" height="0.8"/><rect x="131.3" y="94.5" width="1.4" height="0.8"/><rect x="128.1" y="85.2" width="1.4" height="0.8"/><rect x="112.1" y="96.3" width="1.4" height="0.8"/><rect x="132.3" y="87.6" width="1.4" height="0.8"/><rect x="107.5" y="92.3" width="1.4" height="0.8"/><rect x="104.7" y="91.0" width="1.4" height="0.8"/><rect x="111.5" y="84.8" width="1.4" height="0.8"/><rect x="93.8" y="96.4" width="1.4" height="0.8"/><rect x="124.7" y="96.0" width="1.4" height="0.8"/><rect x="117.7" y="94.5" width="1.4" height="0.8"/><rect x="129.9" y="95.4" width="1.4" height="0.8"/><rect x="88.7" y="87.8" width="1.4" height="0.8"/><rect x="119.9" y="87.9" width="1.4" height="0.8"/><rect x="113.3" y="95.9" width="1.4" height="0.8"/><rect x="117.1" y="87.6" width="1.4" height="0.8"/><rect x="112.2" y="89.8" width="1.4" height="0.8"/><rect x="133.1" y="88.0" width="1.4" height="0.8"/><rect x="101.8" y="92.5" width="1.4" height="0.8"/><rect x="92.8" y="91.8" width="1.4" height="0.8"/><rect x="133.4" y="90.8" width="1.4" height="0.8"/><rect x="100.0" y="90.2" width="1.4" height="0.8"/><rect x="112.9" y="86.3" width="1.4" height="0.8"/><rect x="93.0" y="86.1" width="1.4" height="0.8"/><rect x="101.2" y="89.5" width="1.4" height="0.8"/><rect x="101.0" y="87.5" width="1.4" height="0.8"/><rect x="91.3" y="91.2" width="1.4" height="0.8"/><rect x="127.7" y="92.0" width="1.4" height="0.8"/><rect x="114.7" y="92.5" width="1.4" height="0.8"/><rect x="96.8" y="93.2" width="1.4" height="0.8"/><rect x="109.4" y="91.2" width="1.4" height="0.8"/><rect x="116.7" y="90.3" width="1.4" height="0.8"/><rect x="102.1" y="87.5" width="1.4" height="0.8"/><rect x="97.7" y="90.8" width="1.4" height="0.8"/><rect x="105.6" y="91.7" width="1.4" height="0.8"/><rect x="128.8" y="87.4" width="1.4" height="0.8"/><rect x="114.0" y="90.5" width="1.4" height="0.8"/><rect x="100.8" y="96.6" width="1.4" height="0.8"/><rect x="101.3" y="94.0" width="1.4" height="0.8"/><rect x="94.7" y="85.3" width="1.4" height="0.8"/><rect x="129.3" y="89.9" width="1.4" height="0.8"/></g>
<line x1="115.7" y1="103.6" x2="90" y2="103.6" stroke="#141414" stroke-width="1.4"/>
<path d="M 92 100.2 L 83.6 103.6 L 92 107 Z" fill="#141414"/>
<text x="95.5" y="119" font-size="13.5" text-anchor="middle" fill="#1a1a1a" font-weight="normal" font-style="italic" stroke="#1a1a1a" stroke-width="0.2" >Southward</text>
<text x="95.5" y="134.3" font-size="13.5" text-anchor="middle" fill="#1a1a1a" font-weight="normal" font-style="italic" stroke="#1a1a1a" stroke-width="0.2" >propogation</text>
<text x="95.5" y="149.6" font-size="13.5" text-anchor="middle" fill="#1a1a1a" font-weight="normal" font-style="italic" stroke="#1a1a1a" stroke-width="0.2" >Aug. 2015</text>
<path d="M 178.20 119.20 C 184.97 119.20 185.29 128.00 183.68 134.96 L 178.20 151.20 L 172.72 134.96 C 171.10 128.00 171.43 119.20 178.20 119.20 Z" fill="#f3202e"/>
<path d="M 177.50 154.80 C 180.18 154.80 180.31 159.30 179.67 162.81 L 177.50 171.00 L 175.33 162.81 C 174.69 159.30 174.82 154.80 177.50 154.80 Z" fill="#f3202e"/>
<text x="185.5" y="144" font-size="13.3" text-anchor="start" fill="#1a1a1a" font-weight="normal" stroke="#1a1a1a" stroke-width="0.2" >28*10<tspan font-size="9" dy="-5">6</tspan></text>
<text x="190.5" y="155.7" font-size="13.3" text-anchor="start" fill="#1a1a1a" font-weight="normal" stroke="#1a1a1a" stroke-width="0.2" >m<tspan font-size="9" dy="-5">3</tspan><tspan dy="5">/yr</tspan></text>
<path d="M 46.00 58.60 L 58.40 55.20 L 70.00 52.80 L 81.00 50.60 L 91.00 48.00 L 100.00 45.40 L 110.00 42.90 L 120.00 41.30 L 131.70 40.10 L 145.00 38.70 L 159.00 37.70 L 163.00 37.80 L 168.50 43.60 L 215.50 43.60 L 221.20 38.00 L 257.80 45.30" fill="none" stroke="#141414" stroke-width="1.5" stroke-dasharray="4.3 2.4"/>
<path d="M 58.8 55.1 L 58.8 59.6 M 54.599999999999994 54.6 L 58.8 59.6 L 63.0 54.6" fill="none" stroke="#2b48a3" stroke-width="1.3"/>
<path d="M 81.1 50.6 L 81.1 59.6 M 76.89999999999999 54.6 L 81.1 59.6 L 85.3 54.6" fill="none" stroke="#2b48a3" stroke-width="1.3"/>
<path d="M 104.6 44.3 L 104.6 59.6 M 100.39999999999999 54.6 L 104.6 59.6 L 108.8 54.6" fill="none" stroke="#2b48a3" stroke-width="1.3"/>
<path d="M 131.6 40.1 L 131.6 59.6 M 127.39999999999999 54.6 L 131.6 59.6 L 135.79999999999998 54.6" fill="none" stroke="#2b48a3" stroke-width="1.3"/>
<path d="M 158.8 37.7 L 158.8 59.6 M 154.60000000000002 54.6 L 158.8 59.6 L 163.0 54.6" fill="none" stroke="#2b48a3" stroke-width="1.3"/>
<path d="M 104.3 25.2 C 114 24.5 123 27 121 31.5 C 119 36 109 38 109.2 42.5 C 109.5 47 122 49.5 131.2 52.5" fill="none" stroke="#2b48a3" stroke-width="1.2"/>
<text x="61.9" y="23.6" font-size="13.5" text-anchor="middle" fill="#2b48a3" font-weight="normal" stroke="#2b48a3" stroke-width="0.2" >Topographic</text>
<text x="61.9" y="40.2" font-size="13.6" text-anchor="middle" fill="#2b48a3" font-weight="normal" stroke="#2b48a3" stroke-width="0.2" >stress gradient</text>
<text x="193.3" y="26.9" font-size="13.85" text-anchor="middle" fill="#2f86c8" font-weight="normal" stroke="#2f86c8" stroke-width="0.2" >2014-2015</text>
<path d="M 50.3 57.8 L 50.3 171.8 L 257.8 171.8 L 257.8 45.3" fill="none" stroke="#141414" stroke-width="1.1"/>
<line x1="50.30" y1="171.8" x2="50.30" y2="180.6" stroke="#141414" stroke-width="2.7"/>
<text x="50.3" y="191.7" font-size="11.2" text-anchor="middle" fill="#1a1a1a" font-weight="normal" stroke="#1a1a1a" stroke-width="0.2" >0</text>
<line x1="102.17" y1="171.8" x2="102.17" y2="180.6" stroke="#141414" stroke-width="2.7"/>
<text x="102.17" y="191.7" font-size="11.2" text-anchor="middle" fill="#1a1a1a" font-weight="normal" stroke="#1a1a1a" stroke-width="0.2" >5</text>
<line x1="154.05" y1="171.8" x2="154.05" y2="180.6" stroke="#141414" stroke-width="2.7"/>
<text x="154.05" y="191.7" font-size="11.2" text-anchor="middle" fill="#1a1a1a" font-weight="normal" stroke="#1a1a1a" stroke-width="0.2" >10</text>
<line x1="205.93" y1="171.8" x2="205.93" y2="180.6" stroke="#141414" stroke-width="2.7"/>
<text x="205.93" y="191.7" font-size="11.2" text-anchor="middle" fill="#1a1a1a" font-weight="normal" stroke="#1a1a1a" stroke-width="0.2" >15</text>
<line x1="257.80" y1="171.8" x2="257.80" y2="180.6" stroke="#141414" stroke-width="2.7"/>
<text x="257.8" y="191.7" font-size="11.2" text-anchor="middle" fill="#1a1a1a" font-weight="normal" stroke="#1a1a1a" stroke-width="0.2" >20</text>
<line x1="41" y1="73.3" x2="50.3" y2="73.3" stroke="#141414" stroke-width="2.7"/>
<text x="37.8" y="77.3" font-size="11.2" text-anchor="end" fill="#1a1a1a" font-weight="normal" stroke="#1a1a1a" stroke-width="0.2" >0</text>
<line x1="41" y1="106.3" x2="50.3" y2="106.3" stroke="#141414" stroke-width="2.7"/>
<text x="37.8" y="110.3" font-size="11.2" text-anchor="end" fill="#1a1a1a" font-weight="normal" stroke="#1a1a1a" stroke-width="0.2" >5</text>
<line x1="41" y1="139.3" x2="50.3" y2="139.3" stroke="#141414" stroke-width="2.7"/>
<text x="37.8" y="143.3" font-size="11.2" text-anchor="end" fill="#1a1a1a" font-weight="normal" stroke="#1a1a1a" stroke-width="0.2" >10</text>
<line x1="41" y1="171.8" x2="50.3" y2="171.8" stroke="#141414" stroke-width="2.7"/>
<text x="37.8" y="175.8" font-size="11.2" text-anchor="end" fill="#1a1a1a" font-weight="normal" stroke="#1a1a1a" stroke-width="0.2" >15</text>
<text x="46.2" y="8.7" font-size="13" text-anchor="start" fill="#111" font-weight="bold" stroke="#111" stroke-width="0.35" >a.</text>
<path d="M 18.4 117.5 L 18.4 190 M 18.4 194.6 L 88 194.6" fill="none" stroke="#141414" stroke-width="1.3"/>
<path d="M 14.9 187 L 18.4 195.6 L 21.9 187 Z" fill="#141414"/>
<path d="M 85 191.8 L 96.3 194.6 L 85 197.4 Z" fill="#141414"/>
<text x="12.6" y="208.4" font-size="13.8" text-anchor="start" fill="#1a1a1a" font-weight="normal" stroke="#1a1a1a" stroke-width="0.2" >Distance (km)</text>
<text transform="translate(12.5 191.2) rotate(-90)" font-size="13.3" fill="#1a1a1a" stroke="#1a1a1a" stroke-width="0.2">Depth (km)</text>
<path d="M 337.00 62.00 C 338.03 57.50 338.33 53.50 343.00 51.00 C 347.67 48.50 355.50 47.75 365.00 47.00 C 374.50 46.25 389.17 46.42 400.00 46.50 C 410.83 46.58 422.67 47.00 430.00 47.50 C 437.33 48.00 440.50 48.08 444.00 49.50 C 447.50 50.92 449.40 52.58 451.00 56.00 C 452.60 59.42 453.13 64.33 453.60 70.00 C 454.07 75.67 453.90 83.67 453.80 90.00 C 453.70 96.33 453.80 103.17 453.00 108.00 C 452.20 112.83 451.17 116.00 449.00 119.00 C 446.83 122.00 444.83 124.45 440.00 126.00 C 435.17 127.55 427.50 127.80 420.00 128.30 C 412.50 128.80 403.33 128.80 395.00 129.00 C 386.67 129.20 377.50 129.40 370.00 129.50 C 362.50 129.60 354.83 130.35 350.00 129.60 C 345.17 128.85 343.12 127.77 341.00 125.00 C 338.88 122.23 338.00 118.00 337.30 113.00 C 336.60 108.00 336.88 100.83 336.80 95.00 C 336.72 89.17 336.77 83.50 336.80 78.00 C 336.83 72.50 335.97 66.50 337.00 62.00 Z" fill="rgb(253,207,155)"/>
<path d="M 312.40 72.00 C 312.53 68.00 313.03 63.25 314.30 60.00 C 315.57 56.75 317.05 54.47 320.00 52.50 C 322.95 50.53 326.17 49.12 332.00 48.20 C 337.83 47.28 345.33 47.28 355.00 47.00 C 364.67 46.72 379.17 46.50 390.00 46.50 C 400.83 46.50 413.00 46.58 420.00 47.00 C 427.00 47.42 429.00 47.33 432.00 49.00 C 435.00 50.67 436.58 53.67 438.00 57.00 C 439.42 60.33 440.17 64.83 440.50 69.00 C 440.83 73.17 440.50 78.25 440.00 82.00 C 439.50 85.75 439.17 89.08 437.50 91.50 C 435.83 93.92 434.58 95.42 430.00 96.50 C 425.42 97.58 418.33 97.75 410.00 98.00 C 401.67 98.25 390.00 98.03 380.00 98.00 C 370.00 97.97 358.33 98.05 350.00 97.80 C 341.67 97.55 335.17 97.38 330.00 96.50 C 324.83 95.62 321.75 94.58 319.00 92.50 C 316.25 90.42 314.60 87.42 313.50 84.00 C 312.40 80.58 312.27 76.00 312.40 72.00 Z" fill="rgb(249,170,98)"/>
<path d="M 312.40 72.00 C 312.53 68.00 313.03 63.25 314.30 60.00 C 315.57 56.75 317.05 54.47 320.00 52.50 C 322.95 50.53 326.17 49.12 332.00 48.20 C 337.83 47.28 345.33 47.28 355.00 47.00 C 364.67 46.72 379.17 46.50 390.00 46.50 C 400.83 46.50 413.00 46.58 420.00 47.00 C 427.00 47.42 429.00 47.33 432.00 49.00 C 435.00 50.67 436.58 53.67 438.00 57.00 C 439.42 60.33 440.17 64.83 440.50 69.00 C 440.83 73.17 440.50 78.25 440.00 82.00 C 439.50 85.75 439.17 89.08 437.50 91.50 C 435.83 93.92 434.58 95.42 430.00 96.50 C 425.42 97.58 418.33 97.75 410.00 98.00 C 401.67 98.25 390.00 98.03 380.00 98.00 C 370.00 97.97 358.33 98.05 350.00 97.80 C 341.67 97.55 335.17 97.38 330.00 96.50 C 324.83 95.62 321.75 94.58 319.00 92.50 C 316.25 90.42 314.60 87.42 313.50 84.00 C 312.40 80.58 312.27 76.00 312.40 72.00 Z" fill="rgb(248,158,80)" clip-path="url(#clipBb)"/>
<rect x="271.7" y="61.0" width="206.90000000000003" height="23.400000000000006" fill="rgb(224,225,227)"/>
<g clip-path="url(#band1)">
<g><path d="M 337.00 62.00 C 338.03 57.50 338.33 53.50 343.00 51.00 C 347.67 48.50 355.50 47.75 365.00 47.00 C 374.50 46.25 389.17 46.42 400.00 46.50 C 410.83 46.58 422.67 47.00 430.00 47.50 C 437.33 48.00 440.50 48.08 444.00 49.50 C 447.50 50.92 449.40 52.58 451.00 56.00 C 452.60 59.42 453.13 64.33 453.60 70.00 C 454.07 75.67 453.90 83.67 453.80 90.00 C 453.70 96.33 453.80 103.17 453.00 108.00 C 452.20 112.83 451.17 116.00 449.00 119.00 C 446.83 122.00 444.83 124.45 440.00 126.00 C 435.17 127.55 427.50 127.80 420.00 128.30 C 412.50 128.80 403.33 128.80 395.00 129.00 C 386.67 129.20 377.50 129.40 370.00 129.50 C 362.50 129.60 354.83 130.35 350.00 129.60 C 345.17 128.85 343.12 127.77 341.00 125.00 C 338.88 122.23 338.00 118.00 337.30 113.00 C 336.60 108.00 336.88 100.83 336.80 95.00 C 336.72 89.17 336.77 83.50 336.80 78.00 C 336.83 72.50 335.97 66.50 337.00 62.00 Z" fill="rgb(235,205,170)"/></g>
<g><path d="M 312.40 72.00 C 312.53 68.00 313.03 63.25 314.30 60.00 C 315.57 56.75 317.05 54.47 320.00 52.50 C 322.95 50.53 326.17 49.12 332.00 48.20 C 337.83 47.28 345.33 47.28 355.00 47.00 C 364.67 46.72 379.17 46.50 390.00 46.50 C 400.83 46.50 413.00 46.58 420.00 47.00 C 427.00 47.42 429.00 47.33 432.00 49.00 C 435.00 50.67 436.58 53.67 438.00 57.00 C 439.42 60.33 440.17 64.83 440.50 69.00 C 440.83 73.17 440.50 78.25 440.00 82.00 C 439.50 85.75 439.17 89.08 437.50 91.50 C 435.83 93.92 434.58 95.42 430.00 96.50 C 425.42 97.58 418.33 97.75 410.00 98.00 C 401.67 98.25 390.00 98.03 380.00 98.00 C 370.00 97.97 358.33 98.05 350.00 97.80 C 341.67 97.55 335.17 97.38 330.00 96.50 C 324.83 95.62 321.75 94.58 319.00 92.50 C 316.25 90.42 314.60 87.42 313.50 84.00 C 312.40 80.58 312.27 76.00 312.40 72.00 Z" fill="rgb(233,190,145)"/></g>
<g clip-path="url(#clipBb)"><path d="M 312.40 72.00 C 312.53 68.00 313.03 63.25 314.30 60.00 C 315.57 56.75 317.05 54.47 320.00 52.50 C 322.95 50.53 326.17 49.12 332.00 48.20 C 337.83 47.28 345.33 47.28 355.00 47.00 C 364.67 46.72 379.17 46.50 390.00 46.50 C 400.83 46.50 413.00 46.58 420.00 47.00 C 427.00 47.42 429.00 47.33 432.00 49.00 C 435.00 50.67 436.58 53.67 438.00 57.00 C 439.42 60.33 440.17 64.83 440.50 69.00 C 440.83 73.17 440.50 78.25 440.00 82.00 C 439.50 85.75 439.17 89.08 437.50 91.50 C 435.83 93.92 434.58 95.42 430.00 96.50 C 425.42 97.58 418.33 97.75 410.00 98.00 C 401.67 98.25 390.00 98.03 380.00 98.00 C 370.00 97.97 358.33 98.05 350.00 97.80 C 341.67 97.55 335.17 97.38 330.00 96.50 C 324.83 95.62 321.75 94.58 319.00 92.50 C 316.25 90.42 314.60 87.42 313.50 84.00 C 312.40 80.58 312.27 76.00 312.40 72.00 Z" fill="rgb(230,170,110)"/></g>
</g>
<line x1="271.7" y1="61.0" x2="478.6" y2="61.0" stroke="#b8b9bc" stroke-width="1"/>
<line x1="271.7" y1="84.4" x2="478.6" y2="84.4" stroke="#b8b9bc" stroke-width="1"/>
<line x1="386.2" y1="40" x2="386.2" y2="171.8" stroke="#bcbcbc" stroke-width="1.3" stroke-dasharray="4.4 1.9"/>
<line x1="441.9" y1="40" x2="441.9" y2="171.8" stroke="#bcbcbc" stroke-width="1.3" stroke-dasharray="4.4 1.9"/>
<path d="M 328 61.3 L 422.5 61.3 Q 427.3 61.3 427.3 67 L 427.3 77.8 Q 427.3 83.5 422.5 83.5 L 328 83.5 Q 323.5 72.4 328 61.3 Z" fill="#f3202e" stroke="#141414" stroke-width="1.5"/>
<path d="M 328 61.3 L 339.5 61.3 Q 335.5 72.4 339.5 83.5 L 328 83.5 Q 323.5 72.4 328 61.3 Z" fill="url(#dots)" stroke="#141414" stroke-width="1.3"/>
<line x1="317.5" y1="94.4" x2="342" y2="94.4" stroke="#141414" stroke-width="1.4"/>
<path d="M 341 91 L 349.6 94.4 L 341 97.8 Z" fill="#141414"/>
<text x="318.5" y="112.1" font-size="13.5" text-anchor="middle" fill="#1a1a1a" font-weight="normal" font-style="italic" stroke="#1a1a1a" stroke-width="0.2" >Progressive</text>
<text x="318.5" y="128.2" font-size="13.5" text-anchor="middle" fill="#1a1a1a" font-weight="normal" font-style="italic" stroke="#1a1a1a" stroke-width="0.2" >freezing</text>
<text x="318.5" y="144.5" font-size="13.5" text-anchor="middle" fill="#1a1a1a" font-weight="normal" font-style="italic" stroke="#1a1a1a" stroke-width="0.2" >2017-2018</text>
<path d="M 400.20 94.60 C 403.03 94.60 403.17 99.40 402.50 102.88 L 400.20 111.00 L 397.90 102.88 C 397.23 99.40 397.37 94.60 400.20 94.60 Z" fill="#f3202e"/>
<path d="M 399.80 131.00 C 401.38 131.00 401.45 136.00 401.07 139.42 L 399.80 147.40 L 398.53 139.42 C 398.15 136.00 398.23 131.00 399.80 131.00 Z" fill="#f3202e"/>
<text x="402.8" y="120.5" font-size="13.3" text-anchor="start" fill="#1a1a1a" font-weight="normal" stroke="#1a1a1a" stroke-width="0.2" >12*10<tspan font-size="9" dy="-5">6</tspan></text>
<text x="406.3" y="132" font-size="13.3" text-anchor="start" fill="#1a1a1a" font-weight="normal" stroke="#1a1a1a" stroke-width="0.2" >m<tspan font-size="9" dy="-5">3</tspan><tspan dy="5">/yr</tspan></text>
<text x="413.1" y="41.9" font-size="11.9" text-anchor="middle" fill="#1a1a1a" font-weight="normal" font-style="italic" stroke="#1a1a1a" stroke-width="0.2" >Caldera</text>
<text x="415.5" y="27.6" font-size="13.85" text-anchor="middle" fill="#2f86c8" font-weight="normal" stroke="#2f86c8" stroke-width="0.2" >2015-2018</text>
<text x="474.8" y="167.5" font-size="13.5" text-anchor="end" fill="#1a1a1a" font-weight="normal" font-style="italic" stroke="#1a1a1a" stroke-width="0.2" >Decreased influx</text>
<path d="M 267.00 59.40 L 278.00 56.30 L 290.00 52.90 L 300.00 50.50 L 310.00 48.20 L 325.00 44.90 L 335.00 43.30 L 345.00 41.90 L 355.00 40.70 L 365.00 39.70 L 375.00 39.00 L 385.50 38.60 L 390.20 44.50 L 436.80 44.50 L 441.30 39.20 L 478.60 46.00" fill="none" stroke="#141414" stroke-width="1.5" stroke-dasharray="4.3 2.4"/>
<path d="M 271.7 59.6 L 271.7 171.8 L 478.6 171.8 L 478.6 46" fill="none" stroke="#141414" stroke-width="1.1"/>
<line x1="271.70" y1="171.8" x2="271.70" y2="180.6" stroke="#141414" stroke-width="2.7"/>
<text x="271.7" y="191.7" font-size="11.2" text-anchor="middle" fill="#1a1a1a" font-weight="normal" stroke="#1a1a1a" stroke-width="0.2" >0</text>
<line x1="323.43" y1="171.8" x2="323.43" y2="180.6" stroke="#141414" stroke-width="2.7"/>
<text x="323.43" y="191.7" font-size="11.2" text-anchor="middle" fill="#1a1a1a" font-weight="normal" stroke="#1a1a1a" stroke-width="0.2" >5</text>
<line x1="375.15" y1="171.8" x2="375.15" y2="180.6" stroke="#141414" stroke-width="2.7"/>
<text x="375.15" y="191.7" font-size="11.2" text-anchor="middle" fill="#1a1a1a" font-weight="normal" stroke="#1a1a1a" stroke-width="0.2" >10</text>
<line x1="426.88" y1="171.8" x2="426.88" y2="180.6" stroke="#141414" stroke-width="2.7"/>
<text x="426.88" y="191.7" font-size="11.2" text-anchor="middle" fill="#1a1a1a" font-weight="normal" stroke="#1a1a1a" stroke-width="0.2" >15</text>
<line x1="478.60" y1="171.8" x2="478.60" y2="180.6" stroke="#141414" stroke-width="2.7"/>
<text x="478.6" y="191.7" font-size="11.2" text-anchor="middle" fill="#1a1a1a" font-weight="normal" stroke="#1a1a1a" stroke-width="0.2" >20</text>
<text x="267.6" y="14.8" font-size="13" text-anchor="start" fill="#111" font-weight="bold" stroke="#111" stroke-width="0.35" >b.</text>
<path d="M 535.50 70.00 C 535.75 65.67 536.25 61.17 538.00 58.00 C 539.75 54.83 542.33 52.75 546.00 51.00 C 549.67 49.25 552.67 48.33 560.00 47.50 C 567.33 46.67 578.33 46.25 590.00 46.00 C 601.67 45.75 619.17 45.75 630.00 46.00 C 640.83 46.25 648.83 46.50 655.00 47.50 C 661.17 48.50 664.08 49.58 667.00 52.00 C 669.92 54.42 671.30 57.67 672.50 62.00 C 673.70 66.33 673.98 73.00 674.20 78.00 C 674.42 83.00 674.50 88.00 673.80 92.00 C 673.10 96.00 672.30 99.50 670.00 102.00 C 667.70 104.50 666.67 105.93 660.00 107.00 C 653.33 108.07 641.67 108.13 630.00 108.40 C 618.33 108.67 600.83 108.67 590.00 108.60 C 579.17 108.53 571.33 108.77 565.00 108.00 C 558.67 107.23 556.00 106.17 552.00 104.00 C 548.00 101.83 543.58 98.33 541.00 95.00 C 538.42 91.67 537.42 88.17 536.50 84.00 C 535.58 79.83 535.25 74.33 535.50 70.00 Z" fill="rgb(249,178,115)"/>
<path d="M 553.00 95.00 C 553.33 88.83 553.17 77.17 556.00 70.00 C 558.83 62.83 562.67 55.75 570.00 52.00 C 577.33 48.25 588.33 48.25 600.00 47.50 C 611.67 46.75 629.33 47.08 640.00 47.50 C 650.67 47.92 658.83 47.92 664.00 50.00 C 669.17 52.08 669.50 55.33 671.00 60.00 C 672.50 64.67 672.17 72.67 673.00 78.00 C 673.83 83.33 675.37 88.33 676.00 92.00 C 676.63 95.67 676.97 97.00 676.80 100.00 C 676.63 103.00 676.30 106.67 675.00 110.00 C 673.70 113.33 672.33 117.25 669.00 120.00 C 665.67 122.75 661.50 125.07 655.00 126.50 C 648.50 127.93 639.17 128.18 630.00 128.60 C 620.83 129.02 608.67 129.00 600.00 129.00 C 591.33 129.00 583.67 129.18 578.00 128.60 C 572.33 128.02 569.33 127.43 566.00 125.50 C 562.67 123.57 560.00 120.08 558.00 117.00 C 556.00 113.92 554.83 110.67 554.00 107.00 C 553.17 103.33 552.67 101.17 553.00 95.00 Z" fill="rgb(253,207,155)"/>
<path d="M 549.00 70.00 C 549.25 65.67 549.33 61.33 551.00 58.00 C 552.67 54.67 554.83 51.80 559.00 50.00 C 563.17 48.20 567.50 47.77 576.00 47.20 C 584.50 46.63 598.50 46.63 610.00 46.60 C 621.50 46.57 636.50 46.52 645.00 47.00 C 653.50 47.48 657.00 48.00 661.00 49.50 C 665.00 51.00 667.03 53.42 669.00 56.00 C 670.97 58.58 671.90 61.67 672.80 65.00 C 673.70 68.33 674.20 71.83 674.40 76.00 C 674.60 80.17 674.73 85.83 674.00 90.00 C 673.27 94.17 672.83 98.20 670.00 101.00 C 667.17 103.80 663.67 105.63 657.00 106.80 C 650.33 107.97 639.50 107.73 630.00 108.00 C 620.50 108.27 609.17 108.40 600.00 108.40 C 590.83 108.40 581.67 108.48 575.00 108.00 C 568.33 107.52 563.83 107.33 560.00 105.50 C 556.17 103.67 553.75 100.58 552.00 97.00 C 550.25 93.42 550.00 88.50 549.50 84.00 C 549.00 79.50 548.75 74.33 549.00 70.00 Z" fill="rgb(247,130,82)"/>
<path d="M 548.00 70.00 C 548.17 65.67 548.33 61.33 550.00 58.00 C 551.67 54.67 553.83 51.78 558.00 50.00 C 562.17 48.22 566.33 47.83 575.00 47.30 C 583.67 46.77 599.50 46.80 610.00 46.80 C 620.50 46.80 631.00 46.88 638.00 47.30 C 645.00 47.72 648.17 48.27 652.00 49.30 C 655.83 50.33 658.67 51.72 661.00 53.50 C 663.33 55.28 664.67 57.58 666.00 60.00 C 667.33 62.42 668.37 65.00 669.00 68.00 C 669.63 71.00 669.97 74.33 669.80 78.00 C 669.63 81.67 669.22 86.58 668.00 90.00 C 666.78 93.42 665.83 96.50 662.50 98.50 C 659.17 100.50 656.75 101.38 648.00 102.00 C 639.25 102.62 621.33 102.20 610.00 102.20 C 598.67 102.20 587.83 102.28 580.00 102.00 C 572.17 101.72 567.50 101.67 563.00 100.50 C 558.50 99.33 555.33 97.75 553.00 95.00 C 550.67 92.25 549.83 88.17 549.00 84.00 C 548.17 79.83 547.83 74.33 548.00 70.00 Z" fill="rgb(245,112,60)"/>
<rect x="493.9" y="62.3" width="205.10000000000002" height="22.900000000000006" fill="rgb(224,225,227)"/>
<g clip-path="url(#band2)">
<g><path d="M 535.50 70.00 C 535.75 65.67 536.25 61.17 538.00 58.00 C 539.75 54.83 542.33 52.75 546.00 51.00 C 549.67 49.25 552.67 48.33 560.00 47.50 C 567.33 46.67 578.33 46.25 590.00 46.00 C 601.67 45.75 619.17 45.75 630.00 46.00 C 640.83 46.25 648.83 46.50 655.00 47.50 C 661.17 48.50 664.08 49.58 667.00 52.00 C 669.92 54.42 671.30 57.67 672.50 62.00 C 673.70 66.33 673.98 73.00 674.20 78.00 C 674.42 83.00 674.50 88.00 673.80 92.00 C 673.10 96.00 672.30 99.50 670.00 102.00 C 667.70 104.50 666.67 105.93 660.00 107.00 C 653.33 108.07 641.67 108.13 630.00 108.40 C 618.33 108.67 600.83 108.67 590.00 108.60 C 579.17 108.53 571.33 108.77 565.00 108.00 C 558.67 107.23 556.00 106.17 552.00 104.00 C 548.00 101.83 543.58 98.33 541.00 95.00 C 538.42 91.67 537.42 88.17 536.50 84.00 C 535.58 79.83 535.25 74.33 535.50 70.00 Z" fill="rgb(226,176,132)"/></g>
<g><path d="M 553.00 95.00 C 553.33 88.83 553.17 77.17 556.00 70.00 C 558.83 62.83 562.67 55.75 570.00 52.00 C 577.33 48.25 588.33 48.25 600.00 47.50 C 611.67 46.75 629.33 47.08 640.00 47.50 C 650.67 47.92 658.83 47.92 664.00 50.00 C 669.17 52.08 669.50 55.33 671.00 60.00 C 672.50 64.67 672.17 72.67 673.00 78.00 C 673.83 83.33 675.37 88.33 676.00 92.00 C 676.63 95.67 676.97 97.00 676.80 100.00 C 676.63 103.00 676.30 106.67 675.00 110.00 C 673.70 113.33 672.33 117.25 669.00 120.00 C 665.67 122.75 661.50 125.07 655.00 126.50 C 648.50 127.93 639.17 128.18 630.00 128.60 C 620.83 129.02 608.67 129.00 600.00 129.00 C 591.33 129.00 583.67 129.18 578.00 128.60 C 572.33 128.02 569.33 127.43 566.00 125.50 C 562.67 123.57 560.00 120.08 558.00 117.00 C 556.00 113.92 554.83 110.67 554.00 107.00 C 553.17 103.33 552.67 101.17 553.00 95.00 Z" fill="rgb(235,205,170)"/></g>
<g><path d="M 549.00 70.00 C 549.25 65.67 549.33 61.33 551.00 58.00 C 552.67 54.67 554.83 51.80 559.00 50.00 C 563.17 48.20 567.50 47.77 576.00 47.20 C 584.50 46.63 598.50 46.63 610.00 46.60 C 621.50 46.57 636.50 46.52 645.00 47.00 C 653.50 47.48 657.00 48.00 661.00 49.50 C 665.00 51.00 667.03 53.42 669.00 56.00 C 670.97 58.58 671.90 61.67 672.80 65.00 C 673.70 68.33 674.20 71.83 674.40 76.00 C 674.60 80.17 674.73 85.83 674.00 90.00 C 673.27 94.17 672.83 98.20 670.00 101.00 C 667.17 103.80 663.67 105.63 657.00 106.80 C 650.33 107.97 639.50 107.73 630.00 108.00 C 620.50 108.27 609.17 108.40 600.00 108.40 C 590.83 108.40 581.67 108.48 575.00 108.00 C 568.33 107.52 563.83 107.33 560.00 105.50 C 556.17 103.67 553.75 100.58 552.00 97.00 C 550.25 93.42 550.00 88.50 549.50 84.00 C 549.00 79.50 548.75 74.33 549.00 70.00 Z" fill="rgb(226,150,112)"/></g>
<g><path d="M 548.00 70.00 C 548.17 65.67 548.33 61.33 550.00 58.00 C 551.67 54.67 553.83 51.78 558.00 50.00 C 562.17 48.22 566.33 47.83 575.00 47.30 C 583.67 46.77 599.50 46.80 610.00 46.80 C 620.50 46.80 631.00 46.88 638.00 47.30 C 645.00 47.72 648.17 48.27 652.00 49.30 C 655.83 50.33 658.67 51.72 661.00 53.50 C 663.33 55.28 664.67 57.58 666.00 60.00 C 667.33 62.42 668.37 65.00 669.00 68.00 C 669.63 71.00 669.97 74.33 669.80 78.00 C 669.63 81.67 669.22 86.58 668.00 90.00 C 666.78 93.42 665.83 96.50 662.50 98.50 C 659.17 100.50 656.75 101.38 648.00 102.00 C 639.25 102.62 621.33 102.20 610.00 102.20 C 598.67 102.20 587.83 102.28 580.00 102.00 C 572.17 101.72 567.50 101.67 563.00 100.50 C 558.50 99.33 555.33 97.75 553.00 95.00 C 550.67 92.25 549.83 88.17 549.00 84.00 C 548.17 79.83 547.83 74.33 548.00 70.00 Z" fill="rgb(219,138,104)"/></g>
</g>
<line x1="493.9" y1="62.3" x2="699.0" y2="62.3" stroke="#b8b9bc" stroke-width="1"/>
<line x1="493.9" y1="85.2" x2="699.0" y2="85.2" stroke="#b8b9bc" stroke-width="1"/>
<line x1="608.4" y1="40" x2="608.4" y2="171.8" stroke="#bcbcbc" stroke-width="1.3" stroke-dasharray="4.4 1.9"/>
<line x1="664.1" y1="40" x2="664.1" y2="171.8" stroke="#bcbcbc" stroke-width="1.3" stroke-dasharray="4.4 1.9"/>
<path d="M 565 62.3 L 653.5 62.3 Q 658.9 62.3 658.9 68 L 658.9 79.2 Q 658.9 85 653.5 85 L 565 85 Q 560.5 85 560.5 73.6 Q 560.5 62.3 565 62.3 Z" fill="#f3202e" stroke="#141414" stroke-width="1.5"/>
<path d="M 562 61.8 L 553 61.8 Q 547.3 61.8 547.3 73.5 Q 547.3 85.2 553 85.2 L 562 85.2" fill="none" stroke="#141414" stroke-width="1.3" stroke-dasharray="3.4 2.2"/>
<path d="M 648.5 64 Q 654.5 73.6 648.5 83.2" fill="none" stroke="#141414" stroke-width="1.3" stroke-dasharray="3.4 2.2"/>
<line x1="536" y1="89.4" x2="569.4" y2="54.3" stroke="#141414" stroke-width="1.3"/>
<text x="536.8" y="101.7" font-size="13.5" text-anchor="middle" fill="#1a1a1a" font-weight="normal" font-style="italic" stroke="#1a1a1a" stroke-width="0.2" >Stress</text>
<text x="537.1" y="117.9" font-size="13.5" text-anchor="middle" fill="#1a1a1a" font-weight="normal" font-style="italic" stroke="#1a1a1a" stroke-width="0.2" >accumulation</text>
<path d="M 621.30 100.00 C 625.81 100.00 626.03 106.60 624.95 111.97 L 621.30 124.50 L 617.64 111.97 C 616.57 106.60 616.78 100.00 621.30 100.00 Z" fill="#f3202e"/>
<path d="M 620.50 128.10 C 622.60 128.10 622.70 132.00 622.20 135.66 L 620.50 144.20 L 618.80 135.66 C 618.30 132.00 618.40 128.10 620.50 128.10 Z" fill="#f3202e"/>
<text x="623.6" y="124" font-size="13.3" text-anchor="start" fill="#1a1a1a" font-weight="normal" stroke="#1a1a1a" stroke-width="0.2" >17*10<tspan font-size="9" dy="-5">6</tspan></text>
<text x="627.5" y="136.2" font-size="13.3" text-anchor="start" fill="#1a1a1a" font-weight="normal" stroke="#1a1a1a" stroke-width="0.2" >m<tspan font-size="9" dy="-5">3</tspan><tspan dy="5">/yr</tspan></text>
<text x="634.5" y="27.2" font-size="13.85" text-anchor="middle" fill="#2f86c8" font-weight="normal" stroke="#2f86c8" stroke-width="0.2" >2018-2020</text>
<text x="694.7" y="167.2" font-size="13.5" text-anchor="end" fill="#1a1a1a" font-weight="normal" font-style="italic" stroke="#1a1a1a" stroke-width="0.2" >Increased influx</text>
<path d="M 489.00 59.00 L 500.00 56.40 L 510.00 53.60 L 520.00 51.00 L 530.00 48.40 L 540.00 46.00 L 549.40 43.80 L 564.00 41.30 L 579.10 39.30 L 593.00 38.30 L 606.80 38.00 L 612.30 44.20 L 658.00 44.20 L 664.20 38.60 L 699.00 45.60" fill="none" stroke="#141414" stroke-width="1.5" stroke-dasharray="4.3 2.4"/>
<path d="M 493.9 58.4 L 493.9 171.8 L 699.0 171.8 L 699.0 45.6" fill="none" stroke="#141414" stroke-width="1.1"/>
<line x1="493.90" y1="171.8" x2="493.90" y2="180.6" stroke="#141414" stroke-width="2.7"/>
<text x="493.9" y="192.7" font-size="11.2" text-anchor="middle" fill="#1a1a1a" font-weight="normal" stroke="#1a1a1a" stroke-width="0.2" >0</text>
<line x1="545.50" y1="171.8" x2="545.50" y2="180.6" stroke="#141414" stroke-width="2.7"/>
<text x="545.5" y="191.7" font-size="11.2" text-anchor="middle" fill="#1a1a1a" font-weight="normal" stroke="#1a1a1a" stroke-width="0.2" >5</text>
<line x1="594.20" y1="171.8" x2="594.20" y2="180.6" stroke="#141414" stroke-width="2.7"/>
<text x="594.2" y="191.7" font-size="11.2" text-anchor="middle" fill="#1a1a1a" font-weight="normal" stroke="#1a1a1a" stroke-width="0.2" >10</text>
<line x1="647.50" y1="171.8" x2="647.50" y2="180.6" stroke="#141414" stroke-width="2.7"/>
<text x="647.5" y="191.7" font-size="11.2" text-anchor="middle" fill="#1a1a1a" font-weight="normal" stroke="#1a1a1a" stroke-width="0.2" >15</text>
<line x1="699.00" y1="171.8" x2="699.00" y2="180.6" stroke="#141414" stroke-width="2.7"/>
<text x="699.0" y="191.7" font-size="11.2" text-anchor="middle" fill="#1a1a1a" font-weight="normal" stroke="#1a1a1a" stroke-width="0.2" >20</text>
<text x="489.7" y="12.0" font-size="13" text-anchor="start" fill="#111" font-weight="bold" stroke="#111" stroke-width="0.35" >c.</text>
<line x1="264.7" y1="35.2" x2="264.7" y2="50" stroke="#141414" stroke-width="1.3"/>
<path d="M 261.5 48 L 264.7 60 L 267.9 48 Z" fill="#141414"/>
<line x1="264.7" y1="95" x2="264.7" y2="108.5" stroke="#141414" stroke-width="1.3"/>
<path d="M 261.5 97 L 264.7 87.2 L 267.9 97 Z" fill="#141414"/>
<text transform="translate(269.0 86) rotate(-90)" font-size="12" fill="#1a1a1a" stroke="#1a1a1a" stroke-width="0.2" font-style="italic">LNB</text>
<line x1="485.6" y1="35.2" x2="485.6" y2="50" stroke="#141414" stroke-width="1.3"/>
<path d="M 482.40000000000003 48 L 485.6 60 L 488.8 48 Z" fill="#141414"/>
<line x1="485.6" y1="95" x2="485.6" y2="108.5" stroke="#141414" stroke-width="1.3"/>
<path d="M 482.40000000000003 97 L 485.6 87.2 L 488.8 97 Z" fill="#141414"/>
<text transform="translate(489.90000000000003 86) rotate(-90)" font-size="12" fill="#1a1a1a" stroke="#1a1a1a" stroke-width="0.2" font-style="italic">LNB</text>
<line x1="63.5" y1="236.3" x2="63.5" y2="372.3" stroke="#e8202c" stroke-width="0.9" stroke-dasharray="2.6 1.4" stroke-opacity="0.9"/>
<line x1="171.0" y1="236.3" x2="171.0" y2="372.3" stroke="#e8202c" stroke-width="0.9" stroke-dasharray="2.6 1.4" stroke-opacity="0.9"/>
<line x1="228.3" y1="236.3" x2="228.3" y2="372.3" stroke="#e8202c" stroke-width="0.9" stroke-dasharray="2.6 1.4" stroke-opacity="0.9"/>
<line x1="249.6" y1="236.3" x2="249.6" y2="372.3" stroke="#e8202c" stroke-width="0.9" stroke-dasharray="2.6 1.4" stroke-opacity="0.9"/>
<line x1="288.3" y1="236.3" x2="288.3" y2="372.3" stroke="#e8202c" stroke-width="0.9" stroke-dasharray="2.6 1.4" stroke-opacity="0.9"/>
<line x1="316.9" y1="236.3" x2="316.9" y2="372.3" stroke="#e8202c" stroke-width="0.9" stroke-dasharray="2.6 1.4" stroke-opacity="0.9"/>
<rect x="51.1" y="236.3" width="278.5" height="136.0" fill="none" stroke="#5a5a5a" stroke-width="1"/>
<line x1="43.6" y1="366.2" x2="51.1" y2="366.2" stroke="#141414" stroke-width="2.4"/>
<text x="41.6" y="370.2" font-size="11.4" text-anchor="end" fill="#1a1a1a" font-weight="normal" stroke="#1a1a1a" stroke-width="0.2" >0</text>
<line x1="43.6" y1="335.0" x2="51.1" y2="335.0" stroke="#141414" stroke-width="2.4"/>
<text x="41.6" y="339.0" font-size="11.4" text-anchor="end" fill="#1a1a1a" font-weight="normal" stroke="#1a1a1a" stroke-width="0.2" >50</text>
<line x1="43.6" y1="303.8" x2="51.1" y2="303.8" stroke="#141414" stroke-width="2.4"/>
<text x="41.6" y="307.8" font-size="11.4" text-anchor="end" fill="#1a1a1a" font-weight="normal" stroke="#1a1a1a" stroke-width="0.2" >100</text>
<line x1="43.6" y1="272.7" x2="51.1" y2="272.7" stroke="#141414" stroke-width="2.4"/>
<text x="41.6" y="276.7" font-size="11.4" text-anchor="end" fill="#1a1a1a" font-weight="normal" stroke="#1a1a1a" stroke-width="0.2" >150</text>
<line x1="43.6" y1="241.5" x2="51.1" y2="241.5" stroke="#141414" stroke-width="2.4"/>
<text x="41.6" y="245.5" font-size="11.4" text-anchor="end" fill="#1a1a1a" font-weight="normal" stroke="#1a1a1a" stroke-width="0.2" >200</text>
<line x1="59.1" y1="372.3" x2="59.1" y2="378.2" stroke="#141414" stroke-width="2.4"/>
<text x="59.1" y="389.5" font-size="11.4" text-anchor="middle" fill="#1a1a1a" font-weight="normal" stroke="#1a1a1a" stroke-width="0.2" >2002</text>
<line x1="115.1" y1="372.3" x2="115.1" y2="378.2" stroke="#141414" stroke-width="2.4"/>
<text x="115.1" y="389.5" font-size="11.4" text-anchor="middle" fill="#1a1a1a" font-weight="normal" stroke="#1a1a1a" stroke-width="0.2" >2006</text>
<line x1="171.1" y1="372.3" x2="171.1" y2="378.2" stroke="#141414" stroke-width="2.4"/>
<text x="171.1" y="389.5" font-size="11.4" text-anchor="middle" fill="#1a1a1a" font-weight="normal" stroke="#1a1a1a" stroke-width="0.2" >2010</text>
<line x1="227.1" y1="372.3" x2="227.1" y2="378.2" stroke="#141414" stroke-width="2.4"/>
<text x="227.1" y="389.5" font-size="11.4" text-anchor="middle" fill="#1a1a1a" font-weight="normal" stroke="#1a1a1a" stroke-width="0.2" >2014</text>
<line x1="283.1" y1="372.3" x2="283.1" y2="378.2" stroke="#141414" stroke-width="2.4"/>
<text x="283.1" y="389.5" font-size="11.4" text-anchor="middle" fill="#1a1a1a" font-weight="normal" stroke="#1a1a1a" stroke-width="0.2" >2018</text>
<line x1="329.6" y1="365.4" x2="336.6" y2="365.4" stroke="#e8202c" stroke-width="2.4"/>
<text x="339.2" y="369.7" font-size="12" text-anchor="start" fill="#e8202c" font-weight="normal" stroke="#e8202c" stroke-width="0.2" >0</text>
<line x1="329.6" y1="337.6" x2="336.6" y2="337.6" stroke="#e8202c" stroke-width="2.4"/>
<text x="339.2" y="341.9" font-size="12" text-anchor="start" fill="#e8202c" font-weight="normal" stroke="#e8202c" stroke-width="0.2" >1</text>
<line x1="329.6" y1="309.9" x2="336.6" y2="309.9" stroke="#e8202c" stroke-width="2.4"/>
<text x="339.2" y="314.2" font-size="12" text-anchor="start" fill="#e8202c" font-weight="normal" stroke="#e8202c" stroke-width="0.2" >2</text>
<line x1="329.6" y1="282.1" x2="336.6" y2="282.1" stroke="#e8202c" stroke-width="2.4"/>
<text x="339.2" y="286.4" font-size="12" text-anchor="start" fill="#e8202c" font-weight="normal" stroke="#e8202c" stroke-width="0.2" >3</text>
<line x1="329.6" y1="254.4" x2="336.6" y2="254.4" stroke="#e8202c" stroke-width="2.4"/>
<text x="339.2" y="258.7" font-size="12" text-anchor="start" fill="#e8202c" font-weight="normal" stroke="#e8202c" stroke-width="0.2" >4</text>
<text transform="translate(327.6 369.5) rotate(-90)" font-size="11.5" fill="#e8202c" stroke="#e8202c" stroke-width="0.2" textLength="65.5" lengthAdjust="spacingAndGlyphs">widening (m)</text>
<path d="M 63.50 366.20 L 114.80 322.80 L 171.10 311.30 L 228.30 311.30 L 249.80 283.70 L 287.90 264.00 L 316.90 242.90" fill="none" stroke="#3a8fd2" stroke-width="1.3"/>
<circle cx="63.5" cy="366.2" r="2.75" fill="#1f6db5"/>
<circle cx="114.8" cy="322.8" r="2.75" fill="#1f6db5"/>
<circle cx="171.1" cy="311.3" r="2.75" fill="#1f6db5"/>
<circle cx="228.3" cy="311.3" r="2.75" fill="#1f6db5"/>
<circle cx="249.8" cy="283.7" r="2.75" fill="#1f6db5"/>
<circle cx="287.9" cy="264.0" r="2.75" fill="#1f6db5"/>
<circle cx="316.9" cy="242.9" r="2.75" fill="#1f6db5"/>
<line x1="64.0" y1="265.2" x2="170.5" y2="265.2" stroke="#141414" stroke-width="1.1"/>
<path d="M 68.0 261.59999999999997 L 64.1 265.2 L 68.0 268.8 M 166.5 261.59999999999997 L 170.4 265.2 L 166.5 268.8" fill="none" stroke="#141414" stroke-width="1.1"/>
<line x1="171.5" y1="265.2" x2="227.8" y2="265.2" stroke="#141414" stroke-width="1.1"/>
<path d="M 175.5 261.59999999999997 L 171.6 265.2 L 175.5 268.8 M 223.8 261.59999999999997 L 227.70000000000002 265.2 L 223.8 268.8" fill="none" stroke="#141414" stroke-width="1.1"/>
<line x1="228.8" y1="341.9" x2="249.1" y2="341.9" stroke="#141414" stroke-width="1.1"/>
<path d="M 232.8 338.29999999999995 L 228.9 341.9 L 232.8 345.5 M 245.1 338.29999999999995 L 249.0 341.9 L 245.1 345.5" fill="none" stroke="#141414" stroke-width="1.1"/>
<line x1="250.1" y1="310.8" x2="287.8" y2="310.8" stroke="#141414" stroke-width="1.1"/>
<path d="M 254.1 307.2 L 250.2 310.8 L 254.1 314.40000000000003 M 283.8 307.2 L 287.7 310.8 L 283.8 314.40000000000003" fill="none" stroke="#141414" stroke-width="1.1"/>
<line x1="288.8" y1="276.5" x2="316.4" y2="276.5" stroke="#141414" stroke-width="1.1"/>
<path d="M 292.8 272.9 L 288.90000000000003 276.5 L 292.8 280.1 M 312.4 272.9 L 316.29999999999995 276.5 L 312.4 280.1" fill="none" stroke="#141414" stroke-width="1.1"/>
<text x="98.8" y="250.6" font-size="11.4" text-anchor="start" fill="#1a1a1a" font-weight="normal" stroke="#1a1a1a" stroke-width="0.2" >2002 -</text>
<text x="98.8" y="259.6" font-size="11.4" text-anchor="start" fill="#1a1a1a" font-weight="normal" stroke="#1a1a1a" stroke-width="0.2" >2010</text>
<text x="226.6" y="355.0" font-size="11.4" text-anchor="start" fill="#1a1a1a" font-weight="normal" stroke="#1a1a1a" stroke-width="0.2" >2014 -</text>
<text x="226.6" y="364.2" font-size="11.4" text-anchor="start" fill="#1a1a1a" font-weight="normal" stroke="#1a1a1a" stroke-width="0.2" >2015</text>
<text x="251.4" y="323.2" font-size="11.4" text-anchor="start" fill="#1a1a1a" font-weight="normal" stroke="#1a1a1a" stroke-width="0.2" >2015 -</text>
<text x="251.4" y="332.5" font-size="11.4" text-anchor="start" fill="#1a1a1a" font-weight="normal" stroke="#1a1a1a" stroke-width="0.2" >2018</text>
<text x="289.9" y="289.8" font-size="11.4" text-anchor="start" fill="#1a1a1a" font-weight="normal" stroke="#1a1a1a" stroke-width="0.2" >2018 -</text>
<text x="289.9" y="299.1" font-size="11.4" text-anchor="start" fill="#1a1a1a" font-weight="normal" stroke="#1a1a1a" stroke-width="0.2" >2020</text>
<text x="168.3" y="249.1" font-size="11.4" text-anchor="start" fill="#1a1a1a" font-weight="normal" stroke="#1a1a1a" stroke-width="0.2" >decollement</text>
<text x="182.9" y="261.9" font-size="11.4" text-anchor="start" fill="#1a1a1a" font-weight="normal" stroke="#1a1a1a" stroke-width="0.2" >motion</text>
<text x="46.2" y="229.3" font-size="13.4" text-anchor="start" fill="#111" font-weight="bold" stroke="#111" stroke-width="0.35" >d.</text>
<text transform="translate(18.2 375.5) rotate(-90)" font-size="13.6" fill="#1a1a1a" stroke="#1a1a1a" stroke-width="0.2">Magma influx (x10<tspan font-size="9.5" dy="-5">6</tspan><tspan dy="5"> m</tspan><tspan font-size="9.5" dy="-5">3</tspan><tspan dy="5">)</tspan></text>
<line x1="417.9" y1="236.3" x2="417.9" y2="372.3" stroke="#e8202c" stroke-width="0.9" stroke-dasharray="2.6 1.4" stroke-opacity="0.9"/>
<line x1="525.4" y1="236.3" x2="525.4" y2="372.3" stroke="#e8202c" stroke-width="0.9" stroke-dasharray="2.6 1.4" stroke-opacity="0.9"/>
<line x1="582.7" y1="236.3" x2="582.7" y2="372.3" stroke="#e8202c" stroke-width="0.9" stroke-dasharray="2.6 1.4" stroke-opacity="0.9"/>
<line x1="604.0" y1="236.3" x2="604.0" y2="372.3" stroke="#e8202c" stroke-width="0.9" stroke-dasharray="2.6 1.4" stroke-opacity="0.9"/>
<line x1="642.7" y1="236.3" x2="642.7" y2="372.3" stroke="#e8202c" stroke-width="0.9" stroke-dasharray="2.6 1.4" stroke-opacity="0.9"/>
<line x1="671.3" y1="236.3" x2="671.3" y2="372.3" stroke="#e8202c" stroke-width="0.9" stroke-dasharray="2.6 1.4" stroke-opacity="0.9"/>
<rect x="405.5" y="236.3" width="278.5" height="136.0" fill="none" stroke="#5a5a5a" stroke-width="1"/>
<line x1="398.0" y1="366.2" x2="405.5" y2="366.2" stroke="#141414" stroke-width="2.4"/>
<text x="396.0" y="370.2" font-size="11.4" text-anchor="end" fill="#1a1a1a" font-weight="normal" stroke="#1a1a1a" stroke-width="0.2" >0</text>
<line x1="398.0" y1="335.0" x2="405.5" y2="335.0" stroke="#141414" stroke-width="2.4"/>
<text x="396.0" y="339.0" font-size="11.4" text-anchor="end" fill="#1a1a1a" font-weight="normal" stroke="#1a1a1a" stroke-width="0.2" >50</text>
<line x1="398.0" y1="303.8" x2="405.5" y2="303.8" stroke="#141414" stroke-width="2.4"/>
<text x="396.0" y="307.8" font-size="11.4" text-anchor="end" fill="#1a1a1a" font-weight="normal" stroke="#1a1a1a" stroke-width="0.2" >100</text>
<line x1="398.0" y1="272.7" x2="405.5" y2="272.7" stroke="#141414" stroke-width="2.4"/>
<text x="396.0" y="276.7" font-size="11.4" text-anchor="end" fill="#1a1a1a" font-weight="normal" stroke="#1a1a1a" stroke-width="0.2" >150</text>
<line x1="398.0" y1="241.5" x2="405.5" y2="241.5" stroke="#141414" stroke-width="2.4"/>
<text x="396.0" y="245.5" font-size="11.4" text-anchor="end" fill="#1a1a1a" font-weight="normal" stroke="#1a1a1a" stroke-width="0.2" >200</text>
<line x1="413.5" y1="372.3" x2="413.5" y2="378.2" stroke="#141414" stroke-width="2.4"/>
<text x="413.5" y="389.5" font-size="11.4" text-anchor="middle" fill="#1a1a1a" font-weight="normal" stroke="#1a1a1a" stroke-width="0.2" >2002</text>
<line x1="469.5" y1="372.3" x2="469.5" y2="378.2" stroke="#141414" stroke-width="2.4"/>
<text x="469.5" y="389.5" font-size="11.4" text-anchor="middle" fill="#1a1a1a" font-weight="normal" stroke="#1a1a1a" stroke-width="0.2" >2006</text>
<line x1="525.5" y1="372.3" x2="525.5" y2="378.2" stroke="#141414" stroke-width="2.4"/>
<text x="525.5" y="389.5" font-size="11.4" text-anchor="middle" fill="#1a1a1a" font-weight="normal" stroke="#1a1a1a" stroke-width="0.2" >2010</text>
<line x1="581.5" y1="372.3" x2="581.5" y2="378.2" stroke="#141414" stroke-width="2.4"/>
<text x="581.5" y="389.5" font-size="11.4" text-anchor="middle" fill="#1a1a1a" font-weight="normal" stroke="#1a1a1a" stroke-width="0.2" >2014</text>
<line x1="637.5" y1="372.3" x2="637.5" y2="378.2" stroke="#141414" stroke-width="2.4"/>
<text x="637.5" y="389.5" font-size="11.4" text-anchor="middle" fill="#1a1a1a" font-weight="normal" stroke="#1a1a1a" stroke-width="0.2" >2018</text>
<line x1="684.0" y1="365.6" x2="691.0" y2="365.6" stroke="#e8202c" stroke-width="2.4"/>
<text x="693.6" y="369.9" font-size="12" text-anchor="start" fill="#e8202c" font-weight="normal" stroke="#e8202c" stroke-width="0.2" >0</text>
<line x1="684.0" y1="334.5" x2="691.0" y2="334.5" stroke="#e8202c" stroke-width="2.4"/>
<text x="693.6" y="338.8" font-size="12" text-anchor="start" fill="#e8202c" font-weight="normal" stroke="#e8202c" stroke-width="0.2" >1</text>
<line x1="684.0" y1="303.4" x2="691.0" y2="303.4" stroke="#e8202c" stroke-width="2.4"/>
<text x="693.6" y="307.7" font-size="12" text-anchor="start" fill="#e8202c" font-weight="normal" stroke="#e8202c" stroke-width="0.2" >2</text>
<line x1="684.0" y1="272.3" x2="691.0" y2="272.3" stroke="#e8202c" stroke-width="2.4"/>
<text x="693.6" y="276.6" font-size="12" text-anchor="start" fill="#e8202c" font-weight="normal" stroke="#e8202c" stroke-width="0.2" >3</text>
<line x1="684.0" y1="241.2" x2="691.0" y2="241.2" stroke="#e8202c" stroke-width="2.4"/>
<text x="693.6" y="245.5" font-size="12" text-anchor="start" fill="#e8202c" font-weight="normal" stroke="#e8202c" stroke-width="0.2" >4</text>
<text transform="translate(682.0 369.5) rotate(-90)" font-size="11.5" fill="#e8202c" stroke="#e8202c" stroke-width="0.2" textLength="37" lengthAdjust="spacingAndGlyphs">slip (m)</text>
<path d="M 418.00 366.50 L 469.40 338.70 L 525.40 331.20 L 582.80 289.50 L 603.70 278.50 L 643.10 260.20 L 671.60 242.80" fill="none" stroke="#3a8fd2" stroke-width="1.3"/>
<circle cx="418.0" cy="366.5" r="2.75" fill="#1f6db5"/>
<circle cx="469.4" cy="338.7" r="2.75" fill="#1f6db5"/>
<circle cx="525.4" cy="331.2" r="2.75" fill="#1f6db5"/>
<circle cx="582.8" cy="289.5" r="2.75" fill="#1f6db5"/>
<circle cx="603.7" cy="278.5" r="2.75" fill="#1f6db5"/>
<circle cx="643.1" cy="260.2" r="2.75" fill="#1f6db5"/>
<circle cx="671.6" cy="242.8" r="2.75" fill="#1f6db5"/>
<line x1="418.4" y1="265.2" x2="524.9" y2="265.2" stroke="#141414" stroke-width="1.1"/>
<path d="M 422.4 261.59999999999997 L 418.5 265.2 L 422.4 268.8 M 520.9 261.59999999999997 L 524.8 265.2 L 520.9 268.8" fill="none" stroke="#141414" stroke-width="1.1"/>
<line x1="525.9" y1="265.2" x2="582.2" y2="265.2" stroke="#141414" stroke-width="1.1"/>
<path d="M 529.9 261.59999999999997 L 526.0 265.2 L 529.9 268.8 M 578.2 261.59999999999997 L 582.1 265.2 L 578.2 268.8" fill="none" stroke="#141414" stroke-width="1.1"/>
<line x1="583.2" y1="341.9" x2="603.5" y2="341.9" stroke="#141414" stroke-width="1.1"/>
<path d="M 587.2 338.29999999999995 L 583.3000000000001 341.9 L 587.2 345.5 M 599.5 338.29999999999995 L 603.4 341.9 L 599.5 345.5" fill="none" stroke="#141414" stroke-width="1.1"/>
<line x1="604.5" y1="310.8" x2="642.2" y2="310.8" stroke="#141414" stroke-width="1.1"/>
<path d="M 608.5 307.2 L 604.6 310.8 L 608.5 314.40000000000003 M 638.2 307.2 L 642.1 310.8 L 638.2 314.40000000000003" fill="none" stroke="#141414" stroke-width="1.1"/>
<line x1="643.2" y1="276.5" x2="670.8" y2="276.5" stroke="#141414" stroke-width="1.1"/>
<path d="M 647.2 272.9 L 643.3000000000001 276.5 L 647.2 280.1 M 666.8 272.9 L 670.6999999999999 276.5 L 666.8 280.1" fill="none" stroke="#141414" stroke-width="1.1"/>
<text x="453.2" y="250.6" font-size="11.4" text-anchor="start" fill="#1a1a1a" font-weight="normal" stroke="#1a1a1a" stroke-width="0.2" >2002 -</text>
<text x="453.2" y="259.6" font-size="11.4" text-anchor="start" fill="#1a1a1a" font-weight="normal" stroke="#1a1a1a" stroke-width="0.2" >2010</text>
<text x="581.0" y="355.0" font-size="11.4" text-anchor="start" fill="#1a1a1a" font-weight="normal" stroke="#1a1a1a" stroke-width="0.2" >2014 -</text>
<text x="581.0" y="364.2" font-size="11.4" text-anchor="start" fill="#1a1a1a" font-weight="normal" stroke="#1a1a1a" stroke-width="0.2" >2015</text>
<text x="605.8" y="323.2" font-size="11.4" text-anchor="start" fill="#1a1a1a" font-weight="normal" stroke="#1a1a1a" stroke-width="0.2" >2015 -</text>
<text x="605.8" y="332.5" font-size="11.4" text-anchor="start" fill="#1a1a1a" font-weight="normal" stroke="#1a1a1a" stroke-width="0.2" >2018</text>
<text x="644.3" y="289.8" font-size="11.4" text-anchor="start" fill="#1a1a1a" font-weight="normal" stroke="#1a1a1a" stroke-width="0.2" >2018 -</text>
<text x="644.3" y="299.1" font-size="11.4" text-anchor="start" fill="#1a1a1a" font-weight="normal" stroke="#1a1a1a" stroke-width="0.2" >2020</text>
<text x="522.7" y="249.1" font-size="11.4" text-anchor="start" fill="#1a1a1a" font-weight="normal" stroke="#1a1a1a" stroke-width="0.2" >decollement</text>
<text x="537.3" y="261.9" font-size="11.4" text-anchor="start" fill="#1a1a1a" font-weight="normal" stroke="#1a1a1a" stroke-width="0.2" >motion</text>
<text x="400.6" y="229.3" font-size="13.4" text-anchor="start" fill="#111" font-weight="bold" stroke="#111" stroke-width="0.35" >e.</text>
<text transform="translate(372.4 386.4) rotate(-90)" font-size="13.4" fill="#1a1a1a" stroke="#1a1a1a" stroke-width="0.2">Geodetic moment (x10<tspan font-size="9.5" dy="-5">6</tspan><tspan dy="5"> m</tspan><tspan font-size="9.5" dy="-5">3</tspan><tspan dy="5">)</tspan></text></svg></body></html>
